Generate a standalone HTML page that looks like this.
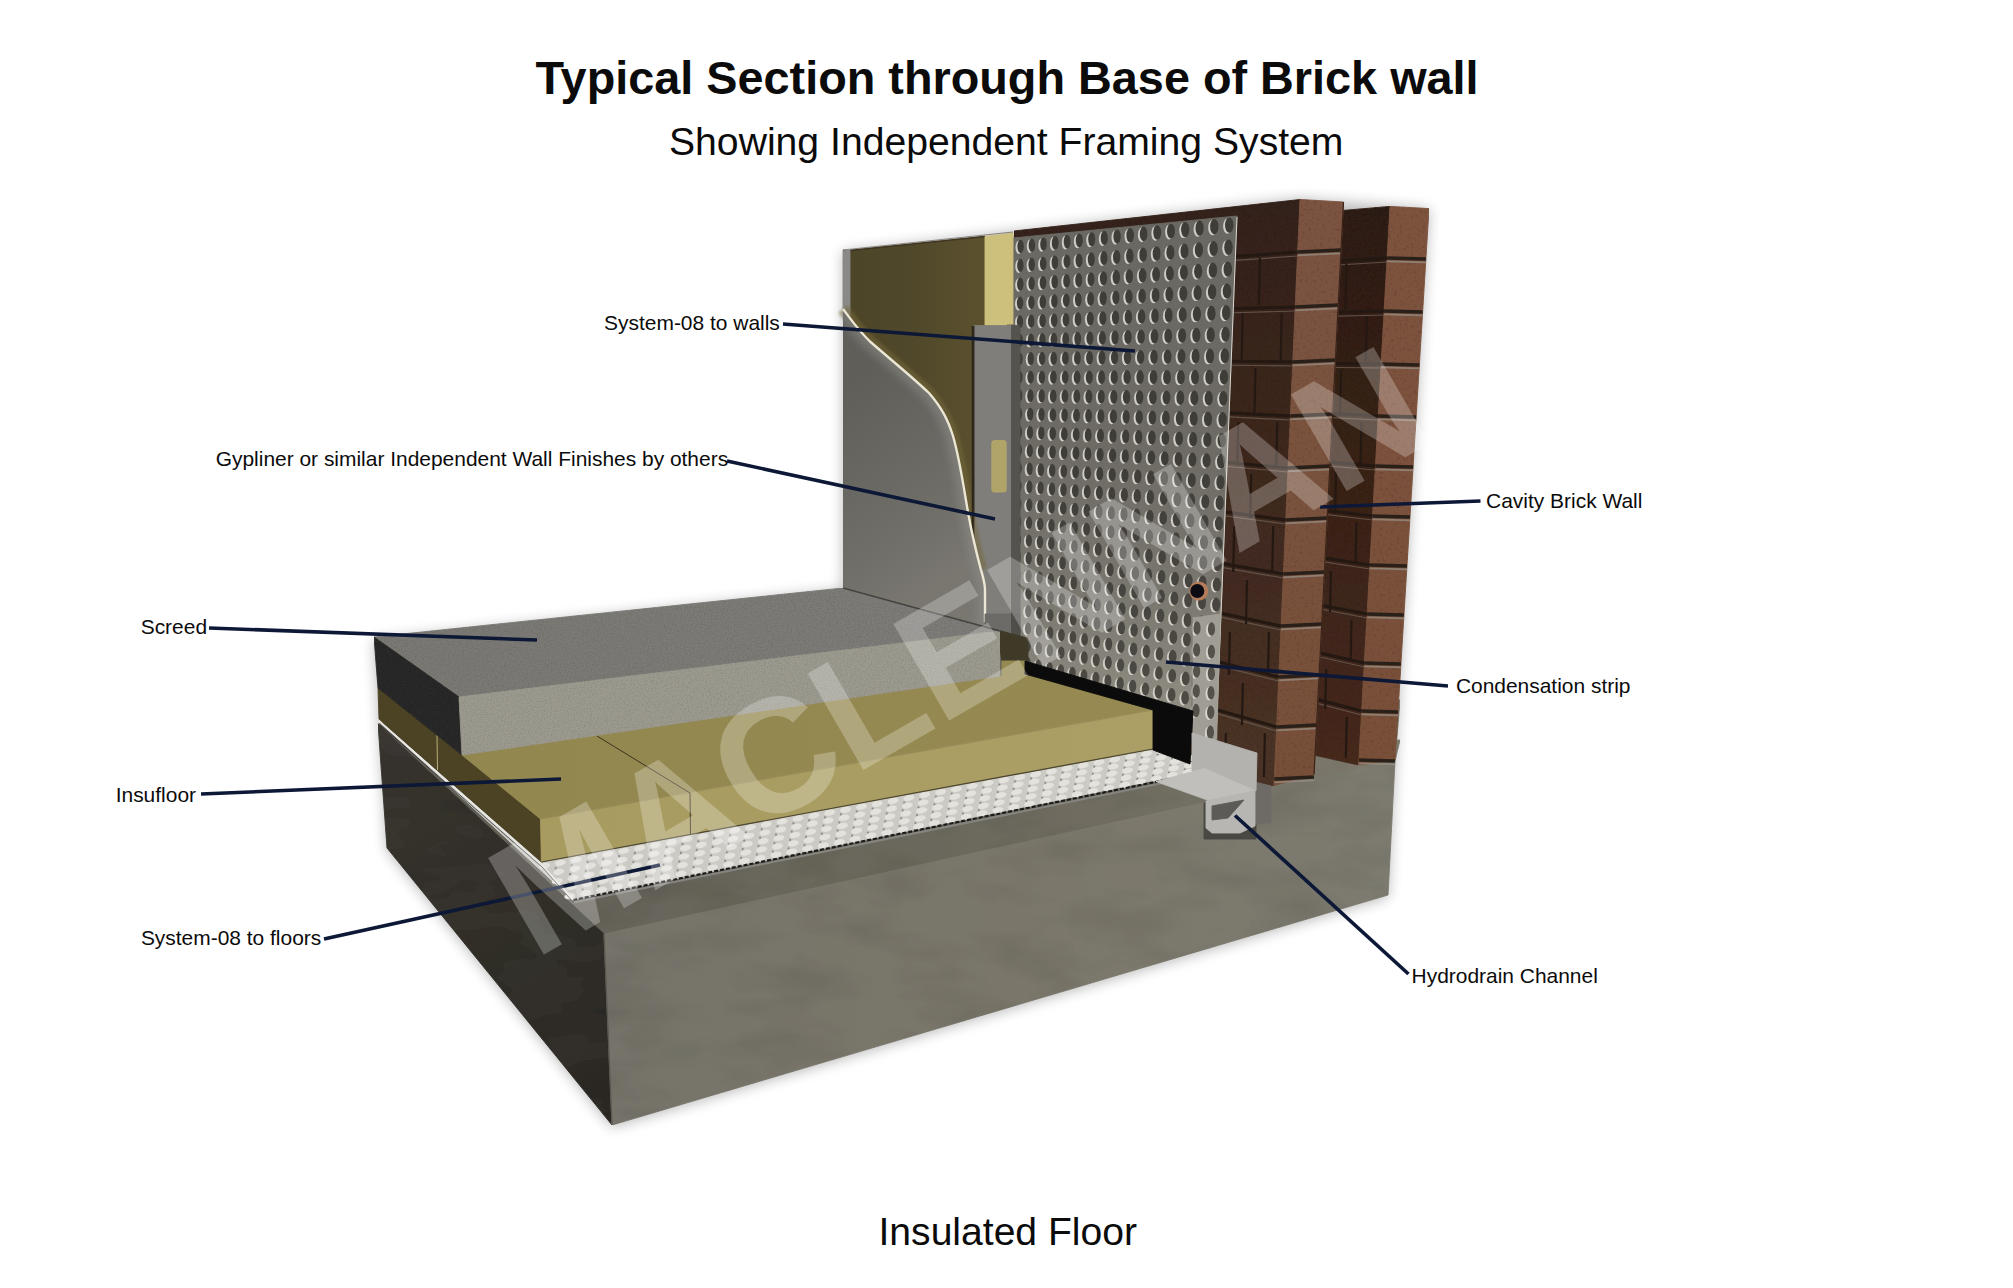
<!DOCTYPE html>
<html><head><meta charset="utf-8"><style>html,body{margin:0;padding:0;background:#fff;}svg{display:block}</style></head>
<body><svg xmlns="http://www.w3.org/2000/svg" width="2013" height="1288" viewBox="0 0 2013 1288">
<defs>
<filter id="blur8" x="-20%" y="-20%" width="140%" height="140%"><feGaussianBlur stdDeviation="7"/></filter>
<filter id="blur2"><feGaussianBlur stdDeviation="1.5"/></filter>
<filter id="blur4" x="-50%" y="-50%" width="200%" height="200%"><feGaussianBlur stdDeviation="4"/></filter>
<filter id="grain" x="0" y="0" width="100%" height="100%">
 <feTurbulence type="fractalNoise" baseFrequency="0.7" numOctaves="2" seed="4" result="n"/>
 <feColorMatrix in="n" type="matrix" values="0 0 0 0 0  0 0 0 0 0  0 0 0 0 0  0 0 0 -0.5 0.3" result="a"/>
 <feComposite in="a" in2="SourceGraphic" operator="in" result="ai"/>
 <feMerge><feMergeNode in="SourceGraphic"/><feMergeNode in="ai"/></feMerge>
</filter>
<filter id="mottle" x="0" y="0" width="100%" height="100%">
 <feTurbulence type="fractalNoise" baseFrequency="0.012 0.03" numOctaves="3" seed="9" result="n"/>
 <feColorMatrix in="n" type="matrix" values="0 0 0 0 0  0 0 0 0 0  0 0 0 0 0  0 0 0 -0.35 0.2" result="a"/>
 <feComposite in="a" in2="SourceGraphic" operator="in" result="ai"/>
 <feMerge><feMergeNode in="SourceGraphic"/><feMergeNode in="ai"/></feMerge>
</filter>
<filter id="brickn" x="0" y="0" width="100%" height="100%">
 <feTurbulence type="fractalNoise" baseFrequency="0.35" numOctaves="2" seed="2" result="n"/>
 <feColorMatrix in="n" type="matrix" values="0 0 0 0 0.05  0 0 0 0 0.02  0 0 0 0 0.01  0 0 0 -1.3 0.55" result="a"/>
 <feComposite in="a" in2="SourceGraphic" operator="in" result="ai"/>
 <feMerge><feMergeNode in="SourceGraphic"/><feMergeNode in="ai"/></feMerge>
</filter>
<linearGradient id="gFront" x1="604" y1="0" x2="1395" y2="0" gradientUnits="userSpaceOnUse"><stop offset="0" stop-color="#76736a"/><stop offset="0.5" stop-color="#7a776b"/><stop offset="1" stop-color="#7d7a6f"/></linearGradient>
<linearGradient id="gLeft" x1="378" y1="724" x2="612" y2="1125" gradientUnits="userSpaceOnUse"><stop offset="0" stop-color="#3a3731"/><stop offset="1" stop-color="#2e2b27"/></linearGradient>
<linearGradient id="gBoard" x1="850" y1="380" x2="975" y2="560" gradientUnits="userSpaceOnUse"><stop offset="0" stop-color="#5f5e59"/><stop offset="0.35" stop-color="#676661"/><stop offset="0.7" stop-color="#706e68"/><stop offset="1" stop-color="#797770"/></linearGradient>
<linearGradient id="gIns" x1="850" y1="0" x2="975" y2="0" gradientUnits="userSpaceOnUse"><stop offset="0" stop-color="#4d4527"/><stop offset="0.5" stop-color="#50482a"/><stop offset="1" stop-color="#5a502e"/></linearGradient>
<radialGradient id="gHole" cx="0.6" cy="0.6" r="0.7"><stop offset="0" stop-color="#2b2925"/><stop offset="0.7" stop-color="#35332e"/><stop offset="1" stop-color="#4a4740"/></radialGradient>
<linearGradient id="gPanel" x1="0" y1="230" x2="0" y2="740" gradientUnits="userSpaceOnUse"><stop offset="0" stop-color="#6a6862"/><stop offset="0.43" stop-color="#6d6b64"/><stop offset="0.72" stop-color="#7a776f"/><stop offset="0.92" stop-color="#8d8a80"/><stop offset="1" stop-color="#9a978e"/></linearGradient>
<linearGradient id="gScreedTop" x1="374" y1="0" x2="1000" y2="0" gradientUnits="userSpaceOnUse"><stop offset="0" stop-color="#7b7975"/><stop offset="1" stop-color="#7f7d79"/></linearGradient>
<linearGradient id="gInsFront" x1="540" y1="0" x2="1153" y2="0" gradientUnits="userSpaceOnUse"><stop offset="0" stop-color="#a89b60"/><stop offset="1" stop-color="#ab9f65"/></linearGradient>
<linearGradient id="gInsTop" x1="462" y1="0" x2="1153" y2="0" gradientUnits="userSpaceOnUse"><stop offset="0" stop-color="#938750"/><stop offset="1" stop-color="#968a52"/></linearGradient>
<linearGradient id="gCTop" x1="0" y1="0" x2="1" y2="0"><stop offset="0" stop-color="#65625a"/><stop offset="0.55" stop-color="#6b685c"/><stop offset="1" stop-color="#787569"/></linearGradient>
<linearGradient id="gIL" x1="0" y1="200" x2="0" y2="786" gradientUnits="userSpaceOnUse"><stop offset="0" stop-color="#33211a"/><stop offset="0.5" stop-color="#3e291f"/><stop offset="1" stop-color="#4a3226"/></linearGradient>
<linearGradient id="gOL" x1="0" y1="206" x2="0" y2="765" gradientUnits="userSpaceOnUse"><stop offset="0" stop-color="#2c1c14"/><stop offset="1" stop-color="#45291d"/></linearGradient>
<linearGradient id="gIF" x1="0" y1="200" x2="0" y2="786" gradientUnits="userSpaceOnUse"><stop offset="0" stop-color="#7b5341"/><stop offset="1" stop-color="#775039"/></linearGradient>
<linearGradient id="gOF" x1="0" y1="206" x2="0" y2="765" gradientUnits="userSpaceOnUse"><stop offset="0" stop-color="#7d523e"/><stop offset="1" stop-color="#785039"/></linearGradient>
</defs>
<rect width="2013" height="1288" fill="#ffffff"/>
<polygon points="843.0,252.0 1013.0,232.0 1300.0,199.0 1429.0,209.0 1395.0,763.0 1388.0,897.0 612.0,1127.0 387.0,850.0 374.0,640.0 843.0,590.0" fill="#000" opacity="0.28" filter="url(#blur8)"/>
<g filter="url(#mottle)"><polygon points="378.0,724.0 900.0,600.0 1400.0,700.0 1395.0,761.0 604.0,934.0" fill="url(#gCTop)" stroke="url(#gCTop)" stroke-width="0.9" stroke-linejoin="round" /><polygon points="1240.0,768.0 1300.0,745.0 1400.0,740.0 1395.0,761.0 1271.0,790.0" fill="#7b786c" stroke="#7b786c" stroke-width="0.9" stroke-linejoin="round" /><polygon points="378.0,724.0 604.0,934.0 612.0,1125.0 387.0,848.0" fill="url(#gLeft)" stroke="url(#gLeft)" stroke-width="0.9" stroke-linejoin="round" /><polygon points="604.0,934.0 1395.0,761.0 1388.0,895.0 612.0,1125.0" fill="url(#gFront)" stroke="url(#gFront)" stroke-width="0.9" stroke-linejoin="round" /></g>
<line x1="604.0" y1="934.0" x2="612.0" y2="1125.0" stroke="#5a5750" stroke-width="1.2" />
<g filter="url(#brickn)"><polygon points="1325.0,212.0 1390.0,206.4 1358.6,765.0 1300.0,752.0" fill="url(#gOL)" stroke="url(#gOL)" stroke-width="0.9" stroke-linejoin="round" /><polygon points="1390.0,206.4 1429.0,208.6 1395.0,760.0 1358.6,765.0" fill="url(#gOF)" stroke="url(#gOF)" stroke-width="0.9" stroke-linejoin="round" /></g>
<line x1="1300.0" y1="263.4" x2="1387.1" y2="258.0" stroke="#241812" stroke-width="3.2" /><line x1="1300.0" y1="267.4" x2="1387.1" y2="262.0" stroke="#6a5d52" stroke-width="1.2" opacity="0.8"/><line x1="1300.0" y1="313.1" x2="1384.1" y2="311.0" stroke="#241812" stroke-width="3.2" /><line x1="1300.0" y1="317.1" x2="1384.1" y2="315.0" stroke="#6a5d52" stroke-width="1.2" opacity="0.8"/><line x1="1300.0" y1="363.0" x2="1381.1" y2="364.0" stroke="#241812" stroke-width="3.2" /><line x1="1300.0" y1="367.0" x2="1381.1" y2="368.0" stroke="#6a5d52" stroke-width="1.2" opacity="0.8"/><line x1="1300.0" y1="412.1" x2="1378.2" y2="416.0" stroke="#241812" stroke-width="3.2" /><line x1="1300.0" y1="416.1" x2="1378.2" y2="420.0" stroke="#6a5d52" stroke-width="1.2" opacity="0.8"/><line x1="1300.0" y1="459.6" x2="1375.4" y2="466.0" stroke="#241812" stroke-width="3.2" /><line x1="1300.0" y1="463.6" x2="1375.4" y2="470.0" stroke="#6a5d52" stroke-width="1.2" opacity="0.8"/><line x1="1300.0" y1="507.3" x2="1372.6" y2="516.0" stroke="#241812" stroke-width="3.2" /><line x1="1300.0" y1="511.3" x2="1372.6" y2="520.0" stroke="#6a5d52" stroke-width="1.2" opacity="0.8"/><line x1="1300.0" y1="554.1" x2="1369.8" y2="565.0" stroke="#241812" stroke-width="3.2" /><line x1="1300.0" y1="558.1" x2="1369.8" y2="569.0" stroke="#6a5d52" stroke-width="1.2" opacity="0.8"/><line x1="1300.0" y1="601.2" x2="1367.1" y2="614.0" stroke="#241812" stroke-width="3.2" /><line x1="1300.0" y1="605.2" x2="1367.1" y2="618.0" stroke="#6a5d52" stroke-width="1.2" opacity="0.8"/><line x1="1300.0" y1="648.5" x2="1364.3" y2="663.0" stroke="#241812" stroke-width="3.2" /><line x1="1300.0" y1="652.5" x2="1364.3" y2="667.0" stroke="#6a5d52" stroke-width="1.2" opacity="0.8"/><line x1="1300.0" y1="694.9" x2="1361.6" y2="711.0" stroke="#241812" stroke-width="3.2" /><line x1="1300.0" y1="698.9" x2="1361.6" y2="715.0" stroke="#6a5d52" stroke-width="1.2" opacity="0.8"/><line x1="1346.4" y1="264.0" x2="1345.4" y2="309.0" stroke="#241812" stroke-width="2.2" /><line x1="1366.8" y1="317.0" x2="1365.8" y2="362.0" stroke="#241812" stroke-width="2.2" /><line x1="1341.1" y1="370.0" x2="1340.1" y2="414.0" stroke="#241812" stroke-width="2.2" /><line x1="1361.5" y1="422.0" x2="1360.5" y2="464.0" stroke="#241812" stroke-width="2.2" /><line x1="1336.0" y1="472.0" x2="1335.0" y2="514.0" stroke="#241812" stroke-width="2.2" /><line x1="1356.5" y1="522.0" x2="1355.5" y2="563.0" stroke="#241812" stroke-width="2.2" /><line x1="1331.0" y1="571.0" x2="1330.0" y2="612.0" stroke="#241812" stroke-width="2.2" /><line x1="1351.6" y1="620.0" x2="1350.6" y2="661.0" stroke="#241812" stroke-width="2.2" /><line x1="1326.2" y1="669.0" x2="1325.2" y2="709.0" stroke="#241812" stroke-width="2.2" /><line x1="1346.8" y1="717.0" x2="1345.8" y2="758.0" stroke="#241812" stroke-width="2.2" />
<line x1="1387.1" y1="258.0" x2="1425.9" y2="259.0" stroke="#2a201a" stroke-width="3.4" /><line x1="1387.1" y1="261.4" x2="1425.9" y2="262.4" stroke="#948c82" stroke-width="1.8" opacity="0.8"/><line x1="1384.1" y1="311.0" x2="1422.6" y2="312.0" stroke="#2a201a" stroke-width="3.4" /><line x1="1384.1" y1="314.4" x2="1422.6" y2="315.4" stroke="#948c82" stroke-width="1.8" opacity="0.8"/><line x1="1381.1" y1="364.0" x2="1419.4" y2="365.0" stroke="#2a201a" stroke-width="3.4" /><line x1="1381.1" y1="367.4" x2="1419.4" y2="368.4" stroke="#948c82" stroke-width="1.8" opacity="0.8"/><line x1="1378.2" y1="416.0" x2="1416.1" y2="417.0" stroke="#2a201a" stroke-width="3.4" /><line x1="1378.2" y1="419.4" x2="1416.1" y2="420.4" stroke="#948c82" stroke-width="1.8" opacity="0.8"/><line x1="1375.4" y1="466.0" x2="1413.1" y2="467.0" stroke="#2a201a" stroke-width="3.4" /><line x1="1375.4" y1="469.4" x2="1413.1" y2="470.4" stroke="#948c82" stroke-width="1.8" opacity="0.8"/><line x1="1372.6" y1="516.0" x2="1410.0" y2="517.0" stroke="#2a201a" stroke-width="3.4" /><line x1="1372.6" y1="519.4" x2="1410.0" y2="520.4" stroke="#948c82" stroke-width="1.8" opacity="0.8"/><line x1="1369.8" y1="565.0" x2="1407.0" y2="566.0" stroke="#2a201a" stroke-width="3.4" /><line x1="1369.8" y1="568.4" x2="1407.0" y2="569.4" stroke="#948c82" stroke-width="1.8" opacity="0.8"/><line x1="1367.1" y1="614.0" x2="1403.9" y2="615.0" stroke="#2a201a" stroke-width="3.4" /><line x1="1367.1" y1="617.4" x2="1403.9" y2="618.4" stroke="#948c82" stroke-width="1.8" opacity="0.8"/><line x1="1364.3" y1="663.0" x2="1400.9" y2="664.0" stroke="#2a201a" stroke-width="3.4" /><line x1="1364.3" y1="666.4" x2="1400.9" y2="667.4" stroke="#948c82" stroke-width="1.8" opacity="0.8"/><line x1="1361.6" y1="711.0" x2="1398.0" y2="712.0" stroke="#2a201a" stroke-width="3.4" /><line x1="1361.6" y1="714.4" x2="1398.0" y2="715.4" stroke="#948c82" stroke-width="1.8" opacity="0.8"/><line x1="1358.9" y1="760.0" x2="1394.9" y2="761.0" stroke="#2a201a" stroke-width="3.4" /><line x1="1358.9" y1="763.4" x2="1394.9" y2="764.4" stroke="#948c82" stroke-width="1.8" opacity="0.8"/>
<g filter="url(#brickn)"><polygon points="1014.0,231.0 1300.0,199.5 1274.0,786.0 1250.0,782.0 1014.0,700.0" fill="url(#gIL)" stroke="url(#gIL)" stroke-width="0.9" stroke-linejoin="round" /><polygon points="1300.0,199.5 1343.5,202.0 1314.0,774.4 1274.0,785.5" fill="url(#gIF)" stroke="url(#gIF)" stroke-width="0.9" stroke-linejoin="round" /></g>
<line x1="1210.0" y1="258.2" x2="1297.7" y2="252.0" stroke="#241812" stroke-width="3.2" /><line x1="1210.0" y1="262.2" x2="1297.7" y2="256.0" stroke="#6a5d52" stroke-width="1.2" opacity="0.8"/><line x1="1210.0" y1="309.5" x2="1295.2" y2="307.0" stroke="#241812" stroke-width="3.2" /><line x1="1210.0" y1="313.5" x2="1295.2" y2="311.0" stroke="#6a5d52" stroke-width="1.2" opacity="0.8"/><line x1="1210.0" y1="361.0" x2="1292.8" y2="362.0" stroke="#241812" stroke-width="3.2" /><line x1="1210.0" y1="365.0" x2="1292.8" y2="366.0" stroke="#6a5d52" stroke-width="1.2" opacity="0.8"/><line x1="1210.0" y1="411.8" x2="1290.4" y2="416.0" stroke="#241812" stroke-width="3.2" /><line x1="1210.0" y1="415.8" x2="1290.4" y2="420.0" stroke="#6a5d52" stroke-width="1.2" opacity="0.8"/><line x1="1210.0" y1="460.8" x2="1288.1" y2="468.0" stroke="#241812" stroke-width="3.2" /><line x1="1210.0" y1="464.8" x2="1288.1" y2="472.0" stroke="#6a5d52" stroke-width="1.2" opacity="0.8"/><line x1="1210.0" y1="510.0" x2="1285.8" y2="520.0" stroke="#241812" stroke-width="3.2" /><line x1="1210.0" y1="514.0" x2="1285.8" y2="524.0" stroke="#6a5d52" stroke-width="1.2" opacity="0.8"/><line x1="1210.0" y1="561.3" x2="1283.4" y2="574.0" stroke="#241812" stroke-width="3.2" /><line x1="1210.0" y1="565.3" x2="1283.4" y2="578.0" stroke="#6a5d52" stroke-width="1.2" opacity="0.8"/><line x1="1210.0" y1="610.9" x2="1281.1" y2="626.0" stroke="#241812" stroke-width="3.2" /><line x1="1210.0" y1="614.9" x2="1281.1" y2="630.0" stroke="#6a5d52" stroke-width="1.2" opacity="0.8"/><line x1="1210.0" y1="659.7" x2="1278.8" y2="677.0" stroke="#241812" stroke-width="3.2" /><line x1="1210.0" y1="663.7" x2="1278.8" y2="681.0" stroke="#6a5d52" stroke-width="1.2" opacity="0.8"/><line x1="1210.0" y1="707.7" x2="1276.6" y2="727.0" stroke="#241812" stroke-width="3.2" /><line x1="1210.0" y1="711.7" x2="1276.6" y2="731.0" stroke="#6a5d52" stroke-width="1.2" opacity="0.8"/><line x1="1259.9" y1="258.0" x2="1258.9" y2="305.0" stroke="#241812" stroke-width="2.2" /><line x1="1242.7" y1="313.0" x2="1241.7" y2="360.0" stroke="#241812" stroke-width="2.2" /><line x1="1281.7" y1="313.0" x2="1280.7" y2="360.0" stroke="#241812" stroke-width="2.2" /><line x1="1255.5" y1="368.0" x2="1254.5" y2="414.0" stroke="#241812" stroke-width="2.2" /><line x1="1238.3" y1="422.0" x2="1237.3" y2="466.0" stroke="#241812" stroke-width="2.2" /><line x1="1277.3" y1="422.0" x2="1276.3" y2="466.0" stroke="#241812" stroke-width="2.2" /><line x1="1251.2" y1="474.0" x2="1250.2" y2="518.0" stroke="#241812" stroke-width="2.2" /><line x1="1234.2" y1="526.0" x2="1233.2" y2="572.0" stroke="#241812" stroke-width="2.2" /><line x1="1273.2" y1="526.0" x2="1272.2" y2="572.0" stroke="#241812" stroke-width="2.2" /><line x1="1247.0" y1="580.0" x2="1246.0" y2="624.0" stroke="#241812" stroke-width="2.2" /><line x1="1229.9" y1="632.0" x2="1228.9" y2="675.0" stroke="#241812" stroke-width="2.2" /><line x1="1268.9" y1="632.0" x2="1267.9" y2="675.0" stroke="#241812" stroke-width="2.2" /><line x1="1242.9" y1="683.0" x2="1241.9" y2="725.0" stroke="#241812" stroke-width="2.2" /><line x1="1225.9" y1="733.0" x2="1224.9" y2="777.0" stroke="#241812" stroke-width="2.2" /><line x1="1264.9" y1="733.0" x2="1263.9" y2="777.0" stroke="#241812" stroke-width="2.2" />
<line x1="1297.7" y1="252.0" x2="1341.0" y2="250.0" stroke="#2a201a" stroke-width="3.4" /><line x1="1297.7" y1="255.4" x2="1341.0" y2="253.4" stroke="#948c82" stroke-width="1.8" opacity="0.8"/><line x1="1295.2" y1="307.0" x2="1338.2" y2="305.0" stroke="#2a201a" stroke-width="3.4" /><line x1="1295.2" y1="310.4" x2="1338.2" y2="308.4" stroke="#948c82" stroke-width="1.8" opacity="0.8"/><line x1="1292.8" y1="362.0" x2="1335.4" y2="360.0" stroke="#2a201a" stroke-width="3.4" /><line x1="1292.8" y1="365.4" x2="1335.4" y2="363.4" stroke="#948c82" stroke-width="1.8" opacity="0.8"/><line x1="1290.4" y1="416.0" x2="1332.6" y2="414.0" stroke="#2a201a" stroke-width="3.4" /><line x1="1290.4" y1="419.4" x2="1332.6" y2="417.4" stroke="#948c82" stroke-width="1.8" opacity="0.8"/><line x1="1288.1" y1="468.0" x2="1329.9" y2="466.0" stroke="#2a201a" stroke-width="3.4" /><line x1="1288.1" y1="471.4" x2="1329.9" y2="469.4" stroke="#948c82" stroke-width="1.8" opacity="0.8"/><line x1="1285.8" y1="520.0" x2="1327.2" y2="518.0" stroke="#2a201a" stroke-width="3.4" /><line x1="1285.8" y1="523.4" x2="1327.2" y2="521.4" stroke="#948c82" stroke-width="1.8" opacity="0.8"/><line x1="1283.4" y1="574.0" x2="1324.4" y2="572.0" stroke="#2a201a" stroke-width="3.4" /><line x1="1283.4" y1="577.4" x2="1324.4" y2="575.4" stroke="#948c82" stroke-width="1.8" opacity="0.8"/><line x1="1281.1" y1="626.0" x2="1321.8" y2="624.0" stroke="#2a201a" stroke-width="3.4" /><line x1="1281.1" y1="629.4" x2="1321.8" y2="627.4" stroke="#948c82" stroke-width="1.8" opacity="0.8"/><line x1="1278.8" y1="677.0" x2="1319.1" y2="675.0" stroke="#2a201a" stroke-width="3.4" /><line x1="1278.8" y1="680.4" x2="1319.1" y2="678.4" stroke="#948c82" stroke-width="1.8" opacity="0.8"/><line x1="1276.6" y1="727.0" x2="1316.5" y2="725.0" stroke="#2a201a" stroke-width="3.4" /><line x1="1276.6" y1="730.4" x2="1316.5" y2="728.4" stroke="#948c82" stroke-width="1.8" opacity="0.8"/><line x1="1274.3" y1="779.0" x2="1313.9" y2="777.0" stroke="#2a201a" stroke-width="3.4" /><line x1="1274.3" y1="782.4" x2="1313.9" y2="780.4" stroke="#948c82" stroke-width="1.8" opacity="0.8"/>
<line x1="1343.5" y1="202.0" x2="1314.0" y2="774.4" stroke="#3b241a" stroke-width="1.2" />
<polygon points="1013.0,238.0 1237.0,216.0 1216.0,738.0 1013.0,675.0" fill="url(#gPanel)" stroke="url(#gPanel)" stroke-width="0.9" stroke-linejoin="round" />
<g><ellipse cx="1018.7" cy="247.4" rx="3.2" ry="6.6" fill="#cfcdc5"/><ellipse cx="1020.6" cy="246.4" rx="3.2" ry="6.6" fill="#3f3d38"/><ellipse cx="1030.0" cy="246.3" rx="3.2" ry="6.7" fill="#cfcdc5"/><ellipse cx="1031.9" cy="245.3" rx="3.2" ry="6.7" fill="#3f3d38"/><ellipse cx="1041.6" cy="245.1" rx="3.3" ry="6.7" fill="#cfcdc5"/><ellipse cx="1043.5" cy="244.1" rx="3.3" ry="6.7" fill="#3f3d38"/><ellipse cx="1053.3" cy="243.9" rx="3.4" ry="6.8" fill="#cfcdc5"/><ellipse cx="1055.2" cy="242.9" rx="3.4" ry="6.8" fill="#3f3d38"/><ellipse cx="1065.2" cy="242.7" rx="3.4" ry="6.9" fill="#cfcdc5"/><ellipse cx="1067.1" cy="241.7" rx="3.4" ry="6.9" fill="#3f3d38"/><ellipse cx="1077.4" cy="241.4" rx="3.5" ry="6.9" fill="#cfcdc5"/><ellipse cx="1079.3" cy="240.4" rx="3.5" ry="6.9" fill="#3f3d38"/><ellipse cx="1089.8" cy="240.2" rx="3.5" ry="7.0" fill="#cfcdc5"/><ellipse cx="1091.7" cy="239.2" rx="3.5" ry="7.0" fill="#3f3d38"/><ellipse cx="1102.4" cy="238.9" rx="3.6" ry="7.1" fill="#cfcdc5"/><ellipse cx="1104.3" cy="237.9" rx="3.6" ry="7.1" fill="#3f3d38"/><ellipse cx="1115.2" cy="237.6" rx="3.7" ry="7.1" fill="#cfcdc5"/><ellipse cx="1117.1" cy="236.6" rx="3.7" ry="7.1" fill="#3f3d38"/><ellipse cx="1128.3" cy="236.3" rx="3.8" ry="7.2" fill="#cfcdc5"/><ellipse cx="1130.2" cy="235.3" rx="3.8" ry="7.2" fill="#3f3d38"/><ellipse cx="1141.7" cy="234.9" rx="3.8" ry="7.3" fill="#cfcdc5"/><ellipse cx="1143.6" cy="233.9" rx="3.8" ry="7.3" fill="#3f3d38"/><ellipse cx="1155.3" cy="233.5" rx="3.9" ry="7.3" fill="#cfcdc5"/><ellipse cx="1157.2" cy="232.5" rx="3.9" ry="7.3" fill="#3f3d38"/><ellipse cx="1169.1" cy="232.1" rx="4.0" ry="7.4" fill="#cfcdc5"/><ellipse cx="1171.0" cy="231.1" rx="4.0" ry="7.4" fill="#3f3d38"/><ellipse cx="1183.3" cy="230.6" rx="4.1" ry="7.5" fill="#cfcdc5"/><ellipse cx="1185.2" cy="229.6" rx="4.1" ry="7.5" fill="#3f3d38"/><ellipse cx="1197.7" cy="229.2" rx="4.1" ry="7.6" fill="#cfcdc5"/><ellipse cx="1199.6" cy="228.2" rx="4.1" ry="7.6" fill="#3f3d38"/><ellipse cx="1212.4" cy="227.7" rx="4.2" ry="7.6" fill="#cfcdc5"/><ellipse cx="1214.3" cy="226.7" rx="4.2" ry="7.6" fill="#3f3d38"/><ellipse cx="1227.4" cy="226.1" rx="4.3" ry="7.7" fill="#cfcdc5"/><ellipse cx="1229.3" cy="225.1" rx="4.3" ry="7.7" fill="#3f3d38"/><ellipse cx="1018.5" cy="266.4" rx="3.2" ry="6.6" fill="#cfcdc5"/><ellipse cx="1020.4" cy="265.4" rx="3.2" ry="6.6" fill="#3f3d38"/><ellipse cx="1029.8" cy="265.4" rx="3.2" ry="6.7" fill="#cfcdc5"/><ellipse cx="1031.7" cy="264.4" rx="3.2" ry="6.7" fill="#3f3d38"/><ellipse cx="1041.3" cy="264.4" rx="3.3" ry="6.7" fill="#cfcdc5"/><ellipse cx="1043.2" cy="263.4" rx="3.3" ry="6.7" fill="#3f3d38"/><ellipse cx="1053.0" cy="263.4" rx="3.3" ry="6.8" fill="#cfcdc5"/><ellipse cx="1054.9" cy="262.4" rx="3.3" ry="6.8" fill="#3f3d38"/><ellipse cx="1065.0" cy="262.3" rx="3.4" ry="6.8" fill="#cfcdc5"/><ellipse cx="1066.9" cy="261.3" rx="3.4" ry="6.8" fill="#3f3d38"/><ellipse cx="1077.1" cy="261.3" rx="3.5" ry="6.9" fill="#cfcdc5"/><ellipse cx="1079.0" cy="260.3" rx="3.5" ry="6.9" fill="#3f3d38"/><ellipse cx="1089.4" cy="260.2" rx="3.5" ry="7.0" fill="#cfcdc5"/><ellipse cx="1091.3" cy="259.2" rx="3.5" ry="7.0" fill="#3f3d38"/><ellipse cx="1102.0" cy="259.1" rx="3.6" ry="7.0" fill="#cfcdc5"/><ellipse cx="1103.9" cy="258.1" rx="3.6" ry="7.0" fill="#3f3d38"/><ellipse cx="1114.8" cy="258.0" rx="3.7" ry="7.1" fill="#cfcdc5"/><ellipse cx="1116.7" cy="257.0" rx="3.7" ry="7.1" fill="#3f3d38"/><ellipse cx="1127.9" cy="256.8" rx="3.7" ry="7.2" fill="#cfcdc5"/><ellipse cx="1129.8" cy="255.8" rx="3.7" ry="7.2" fill="#3f3d38"/><ellipse cx="1141.2" cy="255.7" rx="3.8" ry="7.2" fill="#cfcdc5"/><ellipse cx="1143.1" cy="254.7" rx="3.8" ry="7.2" fill="#3f3d38"/><ellipse cx="1154.7" cy="254.5" rx="3.9" ry="7.3" fill="#cfcdc5"/><ellipse cx="1156.6" cy="253.5" rx="3.9" ry="7.3" fill="#3f3d38"/><ellipse cx="1168.5" cy="253.3" rx="4.0" ry="7.4" fill="#cfcdc5"/><ellipse cx="1170.4" cy="252.3" rx="4.0" ry="7.4" fill="#3f3d38"/><ellipse cx="1182.6" cy="252.0" rx="4.0" ry="7.5" fill="#cfcdc5"/><ellipse cx="1184.5" cy="251.0" rx="4.0" ry="7.5" fill="#3f3d38"/><ellipse cx="1197.0" cy="250.8" rx="4.1" ry="7.5" fill="#cfcdc5"/><ellipse cx="1198.9" cy="249.8" rx="4.1" ry="7.5" fill="#3f3d38"/><ellipse cx="1211.7" cy="249.5" rx="4.2" ry="7.6" fill="#cfcdc5"/><ellipse cx="1213.6" cy="248.5" rx="4.2" ry="7.6" fill="#3f3d38"/><ellipse cx="1226.6" cy="248.2" rx="4.3" ry="7.7" fill="#cfcdc5"/><ellipse cx="1228.5" cy="247.2" rx="4.3" ry="7.7" fill="#3f3d38"/><ellipse cx="1018.4" cy="285.2" rx="3.2" ry="6.6" fill="#cfcdc5"/><ellipse cx="1020.3" cy="284.2" rx="3.2" ry="6.6" fill="#3f3d38"/><ellipse cx="1029.7" cy="284.4" rx="3.2" ry="6.6" fill="#cfcdc5"/><ellipse cx="1031.6" cy="283.4" rx="3.2" ry="6.6" fill="#3f3d38"/><ellipse cx="1041.1" cy="283.6" rx="3.3" ry="6.7" fill="#cfcdc5"/><ellipse cx="1043.0" cy="282.6" rx="3.3" ry="6.7" fill="#3f3d38"/><ellipse cx="1052.8" cy="282.7" rx="3.3" ry="6.7" fill="#cfcdc5"/><ellipse cx="1054.7" cy="281.7" rx="3.3" ry="6.7" fill="#3f3d38"/><ellipse cx="1064.7" cy="281.9" rx="3.4" ry="6.8" fill="#cfcdc5"/><ellipse cx="1066.6" cy="280.9" rx="3.4" ry="6.8" fill="#3f3d38"/><ellipse cx="1076.8" cy="281.0" rx="3.5" ry="6.9" fill="#cfcdc5"/><ellipse cx="1078.7" cy="280.0" rx="3.5" ry="6.9" fill="#3f3d38"/><ellipse cx="1089.1" cy="280.1" rx="3.5" ry="6.9" fill="#cfcdc5"/><ellipse cx="1091.0" cy="279.1" rx="3.5" ry="6.9" fill="#3f3d38"/><ellipse cx="1101.6" cy="279.2" rx="3.6" ry="7.0" fill="#cfcdc5"/><ellipse cx="1103.5" cy="278.2" rx="3.6" ry="7.0" fill="#3f3d38"/><ellipse cx="1114.4" cy="278.2" rx="3.7" ry="7.1" fill="#cfcdc5"/><ellipse cx="1116.3" cy="277.2" rx="3.7" ry="7.1" fill="#3f3d38"/><ellipse cx="1127.4" cy="277.3" rx="3.7" ry="7.1" fill="#cfcdc5"/><ellipse cx="1129.3" cy="276.3" rx="3.7" ry="7.1" fill="#3f3d38"/><ellipse cx="1140.7" cy="276.3" rx="3.8" ry="7.2" fill="#cfcdc5"/><ellipse cx="1142.6" cy="275.3" rx="3.8" ry="7.2" fill="#3f3d38"/><ellipse cx="1154.2" cy="275.4" rx="3.9" ry="7.3" fill="#cfcdc5"/><ellipse cx="1156.1" cy="274.4" rx="3.9" ry="7.3" fill="#3f3d38"/><ellipse cx="1168.0" cy="274.4" rx="3.9" ry="7.3" fill="#cfcdc5"/><ellipse cx="1169.9" cy="273.4" rx="3.9" ry="7.3" fill="#3f3d38"/><ellipse cx="1182.0" cy="273.3" rx="4.0" ry="7.4" fill="#cfcdc5"/><ellipse cx="1183.9" cy="272.3" rx="4.0" ry="7.4" fill="#3f3d38"/><ellipse cx="1196.3" cy="272.3" rx="4.1" ry="7.5" fill="#cfcdc5"/><ellipse cx="1198.2" cy="271.3" rx="4.1" ry="7.5" fill="#3f3d38"/><ellipse cx="1211.0" cy="271.2" rx="4.2" ry="7.6" fill="#cfcdc5"/><ellipse cx="1212.9" cy="270.2" rx="4.2" ry="7.6" fill="#3f3d38"/><ellipse cx="1225.9" cy="270.1" rx="4.3" ry="7.6" fill="#cfcdc5"/><ellipse cx="1227.8" cy="269.1" rx="4.3" ry="7.6" fill="#3f3d38"/><ellipse cx="1018.2" cy="304.0" rx="3.2" ry="6.5" fill="#cfcdc5"/><ellipse cx="1020.1" cy="303.0" rx="3.2" ry="6.5" fill="#3f3d38"/><ellipse cx="1029.5" cy="303.3" rx="3.2" ry="6.6" fill="#cfcdc5"/><ellipse cx="1031.4" cy="302.3" rx="3.2" ry="6.6" fill="#3f3d38"/><ellipse cx="1040.9" cy="302.7" rx="3.3" ry="6.7" fill="#cfcdc5"/><ellipse cx="1042.8" cy="301.7" rx="3.3" ry="6.7" fill="#3f3d38"/><ellipse cx="1052.5" cy="302.0" rx="3.3" ry="6.7" fill="#cfcdc5"/><ellipse cx="1054.4" cy="301.0" rx="3.3" ry="6.7" fill="#3f3d38"/><ellipse cx="1064.4" cy="301.3" rx="3.4" ry="6.8" fill="#cfcdc5"/><ellipse cx="1066.3" cy="300.3" rx="3.4" ry="6.8" fill="#3f3d38"/><ellipse cx="1076.4" cy="300.6" rx="3.4" ry="6.8" fill="#cfcdc5"/><ellipse cx="1078.3" cy="299.6" rx="3.4" ry="6.8" fill="#3f3d38"/><ellipse cx="1088.7" cy="299.9" rx="3.5" ry="6.9" fill="#cfcdc5"/><ellipse cx="1090.6" cy="298.9" rx="3.5" ry="6.9" fill="#3f3d38"/><ellipse cx="1101.2" cy="299.2" rx="3.6" ry="7.0" fill="#cfcdc5"/><ellipse cx="1103.1" cy="298.2" rx="3.6" ry="7.0" fill="#3f3d38"/><ellipse cx="1114.0" cy="298.4" rx="3.6" ry="7.0" fill="#cfcdc5"/><ellipse cx="1115.9" cy="297.4" rx="3.6" ry="7.0" fill="#3f3d38"/><ellipse cx="1127.0" cy="297.7" rx="3.7" ry="7.1" fill="#cfcdc5"/><ellipse cx="1128.9" cy="296.7" rx="3.7" ry="7.1" fill="#3f3d38"/><ellipse cx="1140.2" cy="296.9" rx="3.8" ry="7.2" fill="#cfcdc5"/><ellipse cx="1142.1" cy="295.9" rx="3.8" ry="7.2" fill="#3f3d38"/><ellipse cx="1153.7" cy="296.1" rx="3.9" ry="7.2" fill="#cfcdc5"/><ellipse cx="1155.6" cy="295.1" rx="3.9" ry="7.2" fill="#3f3d38"/><ellipse cx="1167.4" cy="295.3" rx="3.9" ry="7.3" fill="#cfcdc5"/><ellipse cx="1169.3" cy="294.3" rx="3.9" ry="7.3" fill="#3f3d38"/><ellipse cx="1181.4" cy="294.5" rx="4.0" ry="7.4" fill="#cfcdc5"/><ellipse cx="1183.3" cy="293.5" rx="4.0" ry="7.4" fill="#3f3d38"/><ellipse cx="1195.7" cy="293.7" rx="4.1" ry="7.4" fill="#cfcdc5"/><ellipse cx="1197.6" cy="292.7" rx="4.1" ry="7.4" fill="#3f3d38"/><ellipse cx="1210.2" cy="292.8" rx="4.2" ry="7.5" fill="#cfcdc5"/><ellipse cx="1212.1" cy="291.8" rx="4.2" ry="7.5" fill="#3f3d38"/><ellipse cx="1225.1" cy="292.0" rx="4.3" ry="7.6" fill="#cfcdc5"/><ellipse cx="1227.0" cy="291.0" rx="4.3" ry="7.6" fill="#3f3d38"/><ellipse cx="1018.1" cy="322.7" rx="3.1" ry="6.5" fill="#cfcdc5"/><ellipse cx="1020.0" cy="321.7" rx="3.1" ry="6.5" fill="#3f3d38"/><ellipse cx="1029.3" cy="322.2" rx="3.2" ry="6.6" fill="#cfcdc5"/><ellipse cx="1031.2" cy="321.2" rx="3.2" ry="6.6" fill="#3f3d38"/><ellipse cx="1040.7" cy="321.7" rx="3.3" ry="6.6" fill="#cfcdc5"/><ellipse cx="1042.6" cy="320.7" rx="3.3" ry="6.6" fill="#3f3d38"/><ellipse cx="1052.3" cy="321.2" rx="3.3" ry="6.7" fill="#cfcdc5"/><ellipse cx="1054.2" cy="320.2" rx="3.3" ry="6.7" fill="#3f3d38"/><ellipse cx="1064.1" cy="320.7" rx="3.4" ry="6.7" fill="#cfcdc5"/><ellipse cx="1066.0" cy="319.7" rx="3.4" ry="6.7" fill="#3f3d38"/><ellipse cx="1076.1" cy="320.1" rx="3.4" ry="6.8" fill="#cfcdc5"/><ellipse cx="1078.0" cy="319.1" rx="3.4" ry="6.8" fill="#3f3d38"/><ellipse cx="1088.4" cy="319.6" rx="3.5" ry="6.9" fill="#cfcdc5"/><ellipse cx="1090.3" cy="318.6" rx="3.5" ry="6.9" fill="#3f3d38"/><ellipse cx="1100.9" cy="319.1" rx="3.6" ry="6.9" fill="#cfcdc5"/><ellipse cx="1102.8" cy="318.1" rx="3.6" ry="6.9" fill="#3f3d38"/><ellipse cx="1113.6" cy="318.5" rx="3.6" ry="7.0" fill="#cfcdc5"/><ellipse cx="1115.5" cy="317.5" rx="3.6" ry="7.0" fill="#3f3d38"/><ellipse cx="1126.5" cy="317.9" rx="3.7" ry="7.1" fill="#cfcdc5"/><ellipse cx="1128.4" cy="316.9" rx="3.7" ry="7.1" fill="#3f3d38"/><ellipse cx="1139.7" cy="317.4" rx="3.8" ry="7.1" fill="#cfcdc5"/><ellipse cx="1141.6" cy="316.4" rx="3.8" ry="7.1" fill="#3f3d38"/><ellipse cx="1153.1" cy="316.8" rx="3.8" ry="7.2" fill="#cfcdc5"/><ellipse cx="1155.0" cy="315.8" rx="3.8" ry="7.2" fill="#3f3d38"/><ellipse cx="1166.8" cy="316.2" rx="3.9" ry="7.3" fill="#cfcdc5"/><ellipse cx="1168.7" cy="315.2" rx="3.9" ry="7.3" fill="#3f3d38"/><ellipse cx="1180.8" cy="315.6" rx="4.0" ry="7.3" fill="#cfcdc5"/><ellipse cx="1182.7" cy="314.6" rx="4.0" ry="7.3" fill="#3f3d38"/><ellipse cx="1195.0" cy="314.9" rx="4.1" ry="7.4" fill="#cfcdc5"/><ellipse cx="1196.9" cy="313.9" rx="4.1" ry="7.4" fill="#3f3d38"/><ellipse cx="1209.5" cy="314.3" rx="4.2" ry="7.5" fill="#cfcdc5"/><ellipse cx="1211.4" cy="313.3" rx="4.2" ry="7.5" fill="#3f3d38"/><ellipse cx="1224.3" cy="313.7" rx="4.2" ry="7.6" fill="#cfcdc5"/><ellipse cx="1226.2" cy="312.7" rx="4.2" ry="7.6" fill="#3f3d38"/><ellipse cx="1017.9" cy="341.3" rx="3.1" ry="6.5" fill="#cfcdc5"/><ellipse cx="1019.8" cy="340.3" rx="3.1" ry="6.5" fill="#3f3d38"/><ellipse cx="1029.1" cy="340.9" rx="3.2" ry="6.5" fill="#cfcdc5"/><ellipse cx="1031.0" cy="339.9" rx="3.2" ry="6.5" fill="#3f3d38"/><ellipse cx="1040.5" cy="340.6" rx="3.2" ry="6.6" fill="#cfcdc5"/><ellipse cx="1042.4" cy="339.6" rx="3.2" ry="6.6" fill="#3f3d38"/><ellipse cx="1052.0" cy="340.3" rx="3.3" ry="6.6" fill="#cfcdc5"/><ellipse cx="1053.9" cy="339.3" rx="3.3" ry="6.6" fill="#3f3d38"/><ellipse cx="1063.8" cy="339.9" rx="3.4" ry="6.7" fill="#cfcdc5"/><ellipse cx="1065.7" cy="338.9" rx="3.4" ry="6.7" fill="#3f3d38"/><ellipse cx="1075.8" cy="339.6" rx="3.4" ry="6.8" fill="#cfcdc5"/><ellipse cx="1077.7" cy="338.6" rx="3.4" ry="6.8" fill="#3f3d38"/><ellipse cx="1088.0" cy="339.2" rx="3.5" ry="6.8" fill="#cfcdc5"/><ellipse cx="1089.9" cy="338.2" rx="3.5" ry="6.8" fill="#3f3d38"/><ellipse cx="1100.5" cy="338.9" rx="3.5" ry="6.9" fill="#cfcdc5"/><ellipse cx="1102.4" cy="337.9" rx="3.5" ry="6.9" fill="#3f3d38"/><ellipse cx="1113.1" cy="338.5" rx="3.6" ry="7.0" fill="#cfcdc5"/><ellipse cx="1115.0" cy="337.5" rx="3.6" ry="7.0" fill="#3f3d38"/><ellipse cx="1126.1" cy="338.1" rx="3.7" ry="7.0" fill="#cfcdc5"/><ellipse cx="1128.0" cy="337.1" rx="3.7" ry="7.0" fill="#3f3d38"/><ellipse cx="1139.2" cy="337.7" rx="3.8" ry="7.1" fill="#cfcdc5"/><ellipse cx="1141.1" cy="336.7" rx="3.8" ry="7.1" fill="#3f3d38"/><ellipse cx="1152.6" cy="337.3" rx="3.8" ry="7.2" fill="#cfcdc5"/><ellipse cx="1154.5" cy="336.3" rx="3.8" ry="7.2" fill="#3f3d38"/><ellipse cx="1166.3" cy="336.9" rx="3.9" ry="7.2" fill="#cfcdc5"/><ellipse cx="1168.2" cy="335.9" rx="3.9" ry="7.2" fill="#3f3d38"/><ellipse cx="1180.2" cy="336.5" rx="4.0" ry="7.3" fill="#cfcdc5"/><ellipse cx="1182.1" cy="335.5" rx="4.0" ry="7.3" fill="#3f3d38"/><ellipse cx="1194.4" cy="336.1" rx="4.1" ry="7.4" fill="#cfcdc5"/><ellipse cx="1196.3" cy="335.1" rx="4.1" ry="7.4" fill="#3f3d38"/><ellipse cx="1208.8" cy="335.7" rx="4.1" ry="7.4" fill="#cfcdc5"/><ellipse cx="1210.7" cy="334.7" rx="4.1" ry="7.4" fill="#3f3d38"/><ellipse cx="1223.6" cy="335.2" rx="4.2" ry="7.5" fill="#cfcdc5"/><ellipse cx="1225.5" cy="334.2" rx="4.2" ry="7.5" fill="#3f3d38"/><ellipse cx="1017.7" cy="359.8" rx="3.1" ry="6.4" fill="#cfcdc5"/><ellipse cx="1019.6" cy="358.8" rx="3.1" ry="6.4" fill="#3f3d38"/><ellipse cx="1028.9" cy="359.6" rx="3.2" ry="6.5" fill="#cfcdc5"/><ellipse cx="1030.8" cy="358.6" rx="3.2" ry="6.5" fill="#3f3d38"/><ellipse cx="1040.2" cy="359.4" rx="3.2" ry="6.6" fill="#cfcdc5"/><ellipse cx="1042.1" cy="358.4" rx="3.2" ry="6.6" fill="#3f3d38"/><ellipse cx="1051.8" cy="359.3" rx="3.3" ry="6.6" fill="#cfcdc5"/><ellipse cx="1053.7" cy="358.3" rx="3.3" ry="6.6" fill="#3f3d38"/><ellipse cx="1063.5" cy="359.1" rx="3.4" ry="6.7" fill="#cfcdc5"/><ellipse cx="1065.4" cy="358.1" rx="3.4" ry="6.7" fill="#3f3d38"/><ellipse cx="1075.5" cy="358.9" rx="3.4" ry="6.7" fill="#cfcdc5"/><ellipse cx="1077.4" cy="357.9" rx="3.4" ry="6.7" fill="#3f3d38"/><ellipse cx="1087.7" cy="358.7" rx="3.5" ry="6.8" fill="#cfcdc5"/><ellipse cx="1089.6" cy="357.7" rx="3.5" ry="6.8" fill="#3f3d38"/><ellipse cx="1100.1" cy="358.5" rx="3.5" ry="6.9" fill="#cfcdc5"/><ellipse cx="1102.0" cy="357.5" rx="3.5" ry="6.9" fill="#3f3d38"/><ellipse cx="1112.7" cy="358.4" rx="3.6" ry="6.9" fill="#cfcdc5"/><ellipse cx="1114.6" cy="357.4" rx="3.6" ry="6.9" fill="#3f3d38"/><ellipse cx="1125.6" cy="358.2" rx="3.7" ry="7.0" fill="#cfcdc5"/><ellipse cx="1127.5" cy="357.2" rx="3.7" ry="7.0" fill="#3f3d38"/><ellipse cx="1138.7" cy="358.0" rx="3.7" ry="7.1" fill="#cfcdc5"/><ellipse cx="1140.6" cy="357.0" rx="3.7" ry="7.1" fill="#3f3d38"/><ellipse cx="1152.1" cy="357.8" rx="3.8" ry="7.1" fill="#cfcdc5"/><ellipse cx="1154.0" cy="356.8" rx="3.8" ry="7.1" fill="#3f3d38"/><ellipse cx="1165.7" cy="357.6" rx="3.9" ry="7.2" fill="#cfcdc5"/><ellipse cx="1167.6" cy="356.6" rx="3.9" ry="7.2" fill="#3f3d38"/><ellipse cx="1179.6" cy="357.4" rx="4.0" ry="7.3" fill="#cfcdc5"/><ellipse cx="1181.5" cy="356.4" rx="4.0" ry="7.3" fill="#3f3d38"/><ellipse cx="1193.7" cy="357.1" rx="4.0" ry="7.3" fill="#cfcdc5"/><ellipse cx="1195.6" cy="356.1" rx="4.0" ry="7.3" fill="#3f3d38"/><ellipse cx="1208.1" cy="356.9" rx="4.1" ry="7.4" fill="#cfcdc5"/><ellipse cx="1210.0" cy="355.9" rx="4.1" ry="7.4" fill="#3f3d38"/><ellipse cx="1222.9" cy="356.7" rx="4.2" ry="7.5" fill="#cfcdc5"/><ellipse cx="1224.8" cy="355.7" rx="4.2" ry="7.5" fill="#3f3d38"/><ellipse cx="1017.6" cy="378.2" rx="3.1" ry="6.4" fill="#cfcdc5"/><ellipse cx="1019.5" cy="377.2" rx="3.1" ry="6.4" fill="#3f3d38"/><ellipse cx="1028.7" cy="378.2" rx="3.2" ry="6.5" fill="#cfcdc5"/><ellipse cx="1030.6" cy="377.2" rx="3.2" ry="6.5" fill="#3f3d38"/><ellipse cx="1040.0" cy="378.2" rx="3.2" ry="6.5" fill="#cfcdc5"/><ellipse cx="1041.9" cy="377.2" rx="3.2" ry="6.5" fill="#3f3d38"/><ellipse cx="1051.5" cy="378.2" rx="3.3" ry="6.6" fill="#cfcdc5"/><ellipse cx="1053.4" cy="377.2" rx="3.3" ry="6.6" fill="#3f3d38"/><ellipse cx="1063.3" cy="378.2" rx="3.3" ry="6.6" fill="#cfcdc5"/><ellipse cx="1065.2" cy="377.2" rx="3.3" ry="6.6" fill="#3f3d38"/><ellipse cx="1075.2" cy="378.2" rx="3.4" ry="6.7" fill="#cfcdc5"/><ellipse cx="1077.1" cy="377.2" rx="3.4" ry="6.7" fill="#3f3d38"/><ellipse cx="1087.4" cy="378.2" rx="3.5" ry="6.8" fill="#cfcdc5"/><ellipse cx="1089.3" cy="377.2" rx="3.5" ry="6.8" fill="#3f3d38"/><ellipse cx="1099.7" cy="378.1" rx="3.5" ry="6.8" fill="#cfcdc5"/><ellipse cx="1101.6" cy="377.1" rx="3.5" ry="6.8" fill="#3f3d38"/><ellipse cx="1112.3" cy="378.1" rx="3.6" ry="6.9" fill="#cfcdc5"/><ellipse cx="1114.2" cy="377.1" rx="3.6" ry="6.9" fill="#3f3d38"/><ellipse cx="1125.2" cy="378.1" rx="3.7" ry="7.0" fill="#cfcdc5"/><ellipse cx="1127.1" cy="377.1" rx="3.7" ry="7.0" fill="#3f3d38"/><ellipse cx="1138.2" cy="378.1" rx="3.7" ry="7.0" fill="#cfcdc5"/><ellipse cx="1140.1" cy="377.1" rx="3.7" ry="7.0" fill="#3f3d38"/><ellipse cx="1151.6" cy="378.1" rx="3.8" ry="7.1" fill="#cfcdc5"/><ellipse cx="1153.5" cy="377.1" rx="3.8" ry="7.1" fill="#3f3d38"/><ellipse cx="1165.1" cy="378.1" rx="3.9" ry="7.2" fill="#cfcdc5"/><ellipse cx="1167.0" cy="377.1" rx="3.9" ry="7.2" fill="#3f3d38"/><ellipse cx="1179.0" cy="378.1" rx="3.9" ry="7.2" fill="#cfcdc5"/><ellipse cx="1180.9" cy="377.1" rx="3.9" ry="7.2" fill="#3f3d38"/><ellipse cx="1193.1" cy="378.1" rx="4.0" ry="7.3" fill="#cfcdc5"/><ellipse cx="1195.0" cy="377.1" rx="4.0" ry="7.3" fill="#3f3d38"/><ellipse cx="1207.5" cy="378.1" rx="4.1" ry="7.4" fill="#cfcdc5"/><ellipse cx="1209.4" cy="377.1" rx="4.1" ry="7.4" fill="#3f3d38"/><ellipse cx="1222.1" cy="378.1" rx="4.2" ry="7.4" fill="#cfcdc5"/><ellipse cx="1224.0" cy="377.1" rx="4.2" ry="7.4" fill="#3f3d38"/><ellipse cx="1017.4" cy="396.5" rx="3.1" ry="6.4" fill="#cfcdc5"/><ellipse cx="1019.3" cy="395.5" rx="3.1" ry="6.4" fill="#3f3d38"/><ellipse cx="1028.5" cy="396.7" rx="3.2" ry="6.4" fill="#cfcdc5"/><ellipse cx="1030.4" cy="395.7" rx="3.2" ry="6.4" fill="#3f3d38"/><ellipse cx="1039.8" cy="396.8" rx="3.2" ry="6.5" fill="#cfcdc5"/><ellipse cx="1041.7" cy="395.8" rx="3.2" ry="6.5" fill="#3f3d38"/><ellipse cx="1051.3" cy="397.0" rx="3.3" ry="6.6" fill="#cfcdc5"/><ellipse cx="1053.2" cy="396.0" rx="3.3" ry="6.6" fill="#3f3d38"/><ellipse cx="1063.0" cy="397.2" rx="3.3" ry="6.6" fill="#cfcdc5"/><ellipse cx="1064.9" cy="396.2" rx="3.3" ry="6.6" fill="#3f3d38"/><ellipse cx="1074.9" cy="397.3" rx="3.4" ry="6.7" fill="#cfcdc5"/><ellipse cx="1076.8" cy="396.3" rx="3.4" ry="6.7" fill="#3f3d38"/><ellipse cx="1087.0" cy="397.5" rx="3.5" ry="6.7" fill="#cfcdc5"/><ellipse cx="1088.9" cy="396.5" rx="3.5" ry="6.7" fill="#3f3d38"/><ellipse cx="1099.4" cy="397.6" rx="3.5" ry="6.8" fill="#cfcdc5"/><ellipse cx="1101.3" cy="396.6" rx="3.5" ry="6.8" fill="#3f3d38"/><ellipse cx="1111.9" cy="397.8" rx="3.6" ry="6.9" fill="#cfcdc5"/><ellipse cx="1113.8" cy="396.8" rx="3.6" ry="6.9" fill="#3f3d38"/><ellipse cx="1124.7" cy="398.0" rx="3.7" ry="6.9" fill="#cfcdc5"/><ellipse cx="1126.6" cy="397.0" rx="3.7" ry="6.9" fill="#3f3d38"/><ellipse cx="1137.8" cy="398.2" rx="3.7" ry="7.0" fill="#cfcdc5"/><ellipse cx="1139.7" cy="397.2" rx="3.7" ry="7.0" fill="#3f3d38"/><ellipse cx="1151.0" cy="398.3" rx="3.8" ry="7.0" fill="#cfcdc5"/><ellipse cx="1152.9" cy="397.3" rx="3.8" ry="7.0" fill="#3f3d38"/><ellipse cx="1164.6" cy="398.5" rx="3.9" ry="7.1" fill="#cfcdc5"/><ellipse cx="1166.5" cy="397.5" rx="3.9" ry="7.1" fill="#3f3d38"/><ellipse cx="1178.4" cy="398.7" rx="3.9" ry="7.2" fill="#cfcdc5"/><ellipse cx="1180.3" cy="397.7" rx="3.9" ry="7.2" fill="#3f3d38"/><ellipse cx="1192.4" cy="398.9" rx="4.0" ry="7.3" fill="#cfcdc5"/><ellipse cx="1194.3" cy="397.9" rx="4.0" ry="7.3" fill="#3f3d38"/><ellipse cx="1206.8" cy="399.1" rx="4.1" ry="7.3" fill="#cfcdc5"/><ellipse cx="1208.7" cy="398.1" rx="4.1" ry="7.3" fill="#3f3d38"/><ellipse cx="1221.4" cy="399.3" rx="4.2" ry="7.4" fill="#cfcdc5"/><ellipse cx="1223.3" cy="398.3" rx="4.2" ry="7.4" fill="#3f3d38"/><ellipse cx="1017.2" cy="414.8" rx="3.1" ry="6.4" fill="#cfcdc5"/><ellipse cx="1019.1" cy="413.8" rx="3.1" ry="6.4" fill="#3f3d38"/><ellipse cx="1028.3" cy="415.1" rx="3.2" ry="6.4" fill="#cfcdc5"/><ellipse cx="1030.2" cy="414.1" rx="3.2" ry="6.4" fill="#3f3d38"/><ellipse cx="1039.6" cy="415.4" rx="3.2" ry="6.5" fill="#cfcdc5"/><ellipse cx="1041.5" cy="414.4" rx="3.2" ry="6.5" fill="#3f3d38"/><ellipse cx="1051.0" cy="415.7" rx="3.3" ry="6.5" fill="#cfcdc5"/><ellipse cx="1052.9" cy="414.7" rx="3.3" ry="6.5" fill="#3f3d38"/><ellipse cx="1062.7" cy="416.1" rx="3.3" ry="6.6" fill="#cfcdc5"/><ellipse cx="1064.6" cy="415.1" rx="3.3" ry="6.6" fill="#3f3d38"/><ellipse cx="1074.6" cy="416.4" rx="3.4" ry="6.6" fill="#cfcdc5"/><ellipse cx="1076.5" cy="415.4" rx="3.4" ry="6.6" fill="#3f3d38"/><ellipse cx="1086.7" cy="416.7" rx="3.4" ry="6.7" fill="#cfcdc5"/><ellipse cx="1088.6" cy="415.7" rx="3.4" ry="6.7" fill="#3f3d38"/><ellipse cx="1099.0" cy="417.1" rx="3.5" ry="6.8" fill="#cfcdc5"/><ellipse cx="1100.9" cy="416.1" rx="3.5" ry="6.8" fill="#3f3d38"/><ellipse cx="1111.5" cy="417.4" rx="3.6" ry="6.8" fill="#cfcdc5"/><ellipse cx="1113.4" cy="416.4" rx="3.6" ry="6.8" fill="#3f3d38"/><ellipse cx="1124.3" cy="417.8" rx="3.6" ry="6.9" fill="#cfcdc5"/><ellipse cx="1126.2" cy="416.8" rx="3.6" ry="6.9" fill="#3f3d38"/><ellipse cx="1137.3" cy="418.1" rx="3.7" ry="6.9" fill="#cfcdc5"/><ellipse cx="1139.2" cy="417.1" rx="3.7" ry="6.9" fill="#3f3d38"/><ellipse cx="1150.5" cy="418.5" rx="3.8" ry="7.0" fill="#cfcdc5"/><ellipse cx="1152.4" cy="417.5" rx="3.8" ry="7.0" fill="#3f3d38"/><ellipse cx="1164.0" cy="418.9" rx="3.9" ry="7.1" fill="#cfcdc5"/><ellipse cx="1165.9" cy="417.9" rx="3.9" ry="7.1" fill="#3f3d38"/><ellipse cx="1177.8" cy="419.2" rx="3.9" ry="7.1" fill="#cfcdc5"/><ellipse cx="1179.7" cy="418.2" rx="3.9" ry="7.1" fill="#3f3d38"/><ellipse cx="1191.8" cy="419.6" rx="4.0" ry="7.2" fill="#cfcdc5"/><ellipse cx="1193.7" cy="418.6" rx="4.0" ry="7.2" fill="#3f3d38"/><ellipse cx="1206.1" cy="420.0" rx="4.1" ry="7.3" fill="#cfcdc5"/><ellipse cx="1208.0" cy="419.0" rx="4.1" ry="7.3" fill="#3f3d38"/><ellipse cx="1220.7" cy="420.4" rx="4.2" ry="7.4" fill="#cfcdc5"/><ellipse cx="1222.6" cy="419.4" rx="4.2" ry="7.4" fill="#3f3d38"/><ellipse cx="1017.1" cy="433.0" rx="3.1" ry="6.3" fill="#cfcdc5"/><ellipse cx="1019.0" cy="432.0" rx="3.1" ry="6.3" fill="#3f3d38"/><ellipse cx="1028.1" cy="433.4" rx="3.1" ry="6.4" fill="#cfcdc5"/><ellipse cx="1030.0" cy="432.4" rx="3.1" ry="6.4" fill="#3f3d38"/><ellipse cx="1039.4" cy="433.9" rx="3.2" ry="6.4" fill="#cfcdc5"/><ellipse cx="1041.3" cy="432.9" rx="3.2" ry="6.4" fill="#3f3d38"/><ellipse cx="1050.8" cy="434.4" rx="3.3" ry="6.5" fill="#cfcdc5"/><ellipse cx="1052.7" cy="433.4" rx="3.3" ry="6.5" fill="#3f3d38"/><ellipse cx="1062.4" cy="434.9" rx="3.3" ry="6.6" fill="#cfcdc5"/><ellipse cx="1064.3" cy="433.9" rx="3.3" ry="6.6" fill="#3f3d38"/><ellipse cx="1074.3" cy="435.4" rx="3.4" ry="6.6" fill="#cfcdc5"/><ellipse cx="1076.2" cy="434.4" rx="3.4" ry="6.6" fill="#3f3d38"/><ellipse cx="1086.3" cy="435.9" rx="3.4" ry="6.7" fill="#cfcdc5"/><ellipse cx="1088.2" cy="434.9" rx="3.4" ry="6.7" fill="#3f3d38"/><ellipse cx="1098.6" cy="436.4" rx="3.5" ry="6.7" fill="#cfcdc5"/><ellipse cx="1100.5" cy="435.4" rx="3.5" ry="6.7" fill="#3f3d38"/><ellipse cx="1111.1" cy="436.9" rx="3.6" ry="6.8" fill="#cfcdc5"/><ellipse cx="1113.0" cy="435.9" rx="3.6" ry="6.8" fill="#3f3d38"/><ellipse cx="1123.8" cy="437.4" rx="3.6" ry="6.9" fill="#cfcdc5"/><ellipse cx="1125.7" cy="436.4" rx="3.6" ry="6.9" fill="#3f3d38"/><ellipse cx="1136.8" cy="438.0" rx="3.7" ry="6.9" fill="#cfcdc5"/><ellipse cx="1138.7" cy="437.0" rx="3.7" ry="6.9" fill="#3f3d38"/><ellipse cx="1150.0" cy="438.5" rx="3.8" ry="7.0" fill="#cfcdc5"/><ellipse cx="1151.9" cy="437.5" rx="3.8" ry="7.0" fill="#3f3d38"/><ellipse cx="1163.5" cy="439.1" rx="3.8" ry="7.0" fill="#cfcdc5"/><ellipse cx="1165.4" cy="438.1" rx="3.8" ry="7.0" fill="#3f3d38"/><ellipse cx="1177.2" cy="439.6" rx="3.9" ry="7.1" fill="#cfcdc5"/><ellipse cx="1179.1" cy="438.6" rx="3.9" ry="7.1" fill="#3f3d38"/><ellipse cx="1191.2" cy="440.2" rx="4.0" ry="7.2" fill="#cfcdc5"/><ellipse cx="1193.1" cy="439.2" rx="4.0" ry="7.2" fill="#3f3d38"/><ellipse cx="1205.4" cy="440.8" rx="4.1" ry="7.2" fill="#cfcdc5"/><ellipse cx="1207.3" cy="439.8" rx="4.1" ry="7.2" fill="#3f3d38"/><ellipse cx="1219.9" cy="441.4" rx="4.2" ry="7.3" fill="#cfcdc5"/><ellipse cx="1221.8" cy="440.4" rx="4.2" ry="7.3" fill="#3f3d38"/><ellipse cx="1016.9" cy="451.0" rx="3.1" ry="6.3" fill="#cfcdc5"/><ellipse cx="1018.8" cy="450.0" rx="3.1" ry="6.3" fill="#3f3d38"/><ellipse cx="1027.9" cy="451.7" rx="3.1" ry="6.4" fill="#cfcdc5"/><ellipse cx="1029.8" cy="450.7" rx="3.1" ry="6.4" fill="#3f3d38"/><ellipse cx="1039.2" cy="452.3" rx="3.2" ry="6.4" fill="#cfcdc5"/><ellipse cx="1041.1" cy="451.3" rx="3.2" ry="6.4" fill="#3f3d38"/><ellipse cx="1050.6" cy="452.9" rx="3.3" ry="6.5" fill="#cfcdc5"/><ellipse cx="1052.5" cy="451.9" rx="3.3" ry="6.5" fill="#3f3d38"/><ellipse cx="1062.2" cy="453.6" rx="3.3" ry="6.5" fill="#cfcdc5"/><ellipse cx="1064.1" cy="452.6" rx="3.3" ry="6.5" fill="#3f3d38"/><ellipse cx="1074.0" cy="454.2" rx="3.4" ry="6.6" fill="#cfcdc5"/><ellipse cx="1075.9" cy="453.2" rx="3.4" ry="6.6" fill="#3f3d38"/><ellipse cx="1086.0" cy="454.9" rx="3.4" ry="6.6" fill="#cfcdc5"/><ellipse cx="1087.9" cy="453.9" rx="3.4" ry="6.6" fill="#3f3d38"/><ellipse cx="1098.2" cy="455.6" rx="3.5" ry="6.7" fill="#cfcdc5"/><ellipse cx="1100.1" cy="454.6" rx="3.5" ry="6.7" fill="#3f3d38"/><ellipse cx="1110.7" cy="456.3" rx="3.6" ry="6.8" fill="#cfcdc5"/><ellipse cx="1112.6" cy="455.3" rx="3.6" ry="6.8" fill="#3f3d38"/><ellipse cx="1123.4" cy="457.0" rx="3.6" ry="6.8" fill="#cfcdc5"/><ellipse cx="1125.3" cy="456.0" rx="3.6" ry="6.8" fill="#3f3d38"/><ellipse cx="1136.3" cy="457.7" rx="3.7" ry="6.9" fill="#cfcdc5"/><ellipse cx="1138.2" cy="456.7" rx="3.7" ry="6.9" fill="#3f3d38"/><ellipse cx="1149.5" cy="458.4" rx="3.8" ry="6.9" fill="#cfcdc5"/><ellipse cx="1151.4" cy="457.4" rx="3.8" ry="6.9" fill="#3f3d38"/><ellipse cx="1162.9" cy="459.2" rx="3.8" ry="7.0" fill="#cfcdc5"/><ellipse cx="1164.8" cy="458.2" rx="3.8" ry="7.0" fill="#3f3d38"/><ellipse cx="1176.6" cy="460.0" rx="3.9" ry="7.1" fill="#cfcdc5"/><ellipse cx="1178.5" cy="459.0" rx="3.9" ry="7.1" fill="#403d38"/><ellipse cx="1190.5" cy="460.7" rx="4.0" ry="7.1" fill="#cfcdc5"/><ellipse cx="1192.4" cy="459.7" rx="4.0" ry="7.1" fill="#403e38"/><ellipse cx="1204.7" cy="461.5" rx="4.1" ry="7.2" fill="#cfcdc5"/><ellipse cx="1206.6" cy="460.5" rx="4.1" ry="7.2" fill="#403e39"/><ellipse cx="1219.2" cy="462.3" rx="4.1" ry="7.3" fill="#cfcdc5"/><ellipse cx="1221.1" cy="461.3" rx="4.1" ry="7.3" fill="#403e39"/><ellipse cx="1016.8" cy="469.0" rx="3.1" ry="6.3" fill="#cfcdc5"/><ellipse cx="1018.7" cy="468.0" rx="3.1" ry="6.3" fill="#403e39"/><ellipse cx="1027.8" cy="469.8" rx="3.1" ry="6.3" fill="#cfcdc5"/><ellipse cx="1029.7" cy="468.8" rx="3.1" ry="6.3" fill="#403e39"/><ellipse cx="1038.9" cy="470.6" rx="3.2" ry="6.4" fill="#cfcdc5"/><ellipse cx="1040.8" cy="469.6" rx="3.2" ry="6.4" fill="#403e39"/><ellipse cx="1050.3" cy="471.4" rx="3.2" ry="6.4" fill="#cfcdc5"/><ellipse cx="1052.2" cy="470.4" rx="3.2" ry="6.4" fill="#403e39"/><ellipse cx="1061.9" cy="472.2" rx="3.3" ry="6.5" fill="#cfcdc5"/><ellipse cx="1063.8" cy="471.2" rx="3.3" ry="6.5" fill="#403e39"/><ellipse cx="1073.7" cy="473.0" rx="3.4" ry="6.5" fill="#cfcdc5"/><ellipse cx="1075.6" cy="472.0" rx="3.4" ry="6.5" fill="#403e39"/><ellipse cx="1085.7" cy="473.9" rx="3.4" ry="6.6" fill="#cfcdc5"/><ellipse cx="1087.6" cy="472.9" rx="3.4" ry="6.6" fill="#403e39"/><ellipse cx="1097.9" cy="474.7" rx="3.5" ry="6.7" fill="#cfcdc5"/><ellipse cx="1099.8" cy="473.7" rx="3.5" ry="6.7" fill="#403e39"/><ellipse cx="1110.3" cy="475.6" rx="3.6" ry="6.7" fill="#cfcdc5"/><ellipse cx="1112.2" cy="474.6" rx="3.6" ry="6.7" fill="#403e39"/><ellipse cx="1123.0" cy="476.5" rx="3.6" ry="6.8" fill="#cfcdc5"/><ellipse cx="1124.9" cy="475.5" rx="3.6" ry="6.8" fill="#403e39"/><ellipse cx="1135.9" cy="477.4" rx="3.7" ry="6.8" fill="#cfcdc5"/><ellipse cx="1137.8" cy="476.4" rx="3.7" ry="6.8" fill="#413e39"/><ellipse cx="1149.0" cy="478.3" rx="3.8" ry="6.9" fill="#cfcdc5"/><ellipse cx="1150.9" cy="477.3" rx="3.8" ry="6.9" fill="#413e39"/><ellipse cx="1162.4" cy="479.2" rx="3.8" ry="7.0" fill="#cfcdc5"/><ellipse cx="1164.3" cy="478.2" rx="3.8" ry="7.0" fill="#413f39"/><ellipse cx="1176.0" cy="480.2" rx="3.9" ry="7.0" fill="#cfcdc5"/><ellipse cx="1177.9" cy="479.2" rx="3.9" ry="7.0" fill="#413f39"/><ellipse cx="1189.9" cy="481.1" rx="4.0" ry="7.1" fill="#cfcdc5"/><ellipse cx="1191.8" cy="480.1" rx="4.0" ry="7.1" fill="#413f3a"/><ellipse cx="1204.1" cy="482.1" rx="4.1" ry="7.2" fill="#cfcdc5"/><ellipse cx="1206.0" cy="481.1" rx="4.1" ry="7.2" fill="#413f3a"/><ellipse cx="1218.5" cy="483.1" rx="4.1" ry="7.2" fill="#cfcdc5"/><ellipse cx="1220.4" cy="482.1" rx="4.1" ry="7.2" fill="#413f3a"/><ellipse cx="1016.6" cy="487.0" rx="3.1" ry="6.2" fill="#cfcdc5"/><ellipse cx="1018.5" cy="486.0" rx="3.1" ry="6.2" fill="#413f3a"/><ellipse cx="1027.6" cy="487.9" rx="3.1" ry="6.3" fill="#cfcdc5"/><ellipse cx="1029.5" cy="486.9" rx="3.1" ry="6.3" fill="#413f3a"/><ellipse cx="1038.7" cy="488.8" rx="3.2" ry="6.3" fill="#cfcdc5"/><ellipse cx="1040.6" cy="487.8" rx="3.2" ry="6.3" fill="#413f3a"/><ellipse cx="1050.1" cy="489.8" rx="3.2" ry="6.4" fill="#cfcdc5"/><ellipse cx="1052.0" cy="488.8" rx="3.2" ry="6.4" fill="#413f3a"/><ellipse cx="1061.6" cy="490.7" rx="3.3" ry="6.5" fill="#cfcdc5"/><ellipse cx="1063.5" cy="489.7" rx="3.3" ry="6.5" fill="#413f3a"/><ellipse cx="1073.4" cy="491.7" rx="3.4" ry="6.5" fill="#cfcdc5"/><ellipse cx="1075.3" cy="490.7" rx="3.4" ry="6.5" fill="#413f3a"/><ellipse cx="1085.3" cy="492.7" rx="3.4" ry="6.6" fill="#cfcdc5"/><ellipse cx="1087.2" cy="491.7" rx="3.4" ry="6.6" fill="#413f3a"/><ellipse cx="1097.5" cy="493.7" rx="3.5" ry="6.6" fill="#cfcdc5"/><ellipse cx="1099.4" cy="492.7" rx="3.5" ry="6.6" fill="#413f3a"/><ellipse cx="1109.9" cy="494.8" rx="3.5" ry="6.7" fill="#cfcdc5"/><ellipse cx="1111.8" cy="493.8" rx="3.5" ry="6.7" fill="#423f3a"/><ellipse cx="1122.5" cy="495.8" rx="3.6" ry="6.7" fill="#cfcdc5"/><ellipse cx="1124.4" cy="494.8" rx="3.6" ry="6.7" fill="#423f3a"/><ellipse cx="1135.4" cy="496.9" rx="3.7" ry="6.8" fill="#cfcdc5"/><ellipse cx="1137.3" cy="495.9" rx="3.7" ry="6.8" fill="#423f3a"/><ellipse cx="1148.5" cy="498.0" rx="3.7" ry="6.9" fill="#cfcdc5"/><ellipse cx="1150.4" cy="497.0" rx="3.7" ry="6.9" fill="#42403a"/><ellipse cx="1161.8" cy="499.1" rx="3.8" ry="6.9" fill="#cfcdc5"/><ellipse cx="1163.7" cy="498.1" rx="3.8" ry="6.9" fill="#42403a"/><ellipse cx="1175.4" cy="500.3" rx="3.9" ry="7.0" fill="#cfcdc5"/><ellipse cx="1177.3" cy="499.3" rx="3.9" ry="7.0" fill="#42403a"/><ellipse cx="1189.3" cy="501.4" rx="4.0" ry="7.1" fill="#cfcdc5"/><ellipse cx="1191.2" cy="500.4" rx="4.0" ry="7.1" fill="#42403b"/><ellipse cx="1203.4" cy="502.6" rx="4.0" ry="7.1" fill="#cfcdc5"/><ellipse cx="1205.3" cy="501.6" rx="4.0" ry="7.1" fill="#42403b"/><ellipse cx="1217.8" cy="503.8" rx="4.1" ry="7.2" fill="#cfcdc5"/><ellipse cx="1219.7" cy="502.8" rx="4.1" ry="7.2" fill="#42403b"/><ellipse cx="1016.4" cy="504.8" rx="3.1" ry="6.2" fill="#cfcdc5"/><ellipse cx="1018.3" cy="503.8" rx="3.1" ry="6.2" fill="#42403b"/><ellipse cx="1027.4" cy="505.9" rx="3.1" ry="6.3" fill="#cfcdc5"/><ellipse cx="1029.3" cy="504.9" rx="3.1" ry="6.3" fill="#42403b"/><ellipse cx="1038.5" cy="507.0" rx="3.2" ry="6.3" fill="#cfcdc5"/><ellipse cx="1040.4" cy="506.0" rx="3.2" ry="6.3" fill="#42403b"/><ellipse cx="1049.8" cy="508.1" rx="3.2" ry="6.4" fill="#cfcdc5"/><ellipse cx="1051.7" cy="507.1" rx="3.2" ry="6.4" fill="#42403b"/><ellipse cx="1061.4" cy="509.2" rx="3.3" ry="6.4" fill="#cfcdc5"/><ellipse cx="1063.3" cy="508.2" rx="3.3" ry="6.4" fill="#42403b"/><ellipse cx="1073.1" cy="510.3" rx="3.4" ry="6.5" fill="#cfcdc5"/><ellipse cx="1075.0" cy="509.3" rx="3.4" ry="6.5" fill="#42403b"/><ellipse cx="1085.0" cy="511.5" rx="3.4" ry="6.5" fill="#cfcdc5"/><ellipse cx="1086.9" cy="510.5" rx="3.4" ry="6.5" fill="#42403b"/><ellipse cx="1097.2" cy="512.7" rx="3.5" ry="6.6" fill="#cfcdc5"/><ellipse cx="1099.1" cy="511.7" rx="3.5" ry="6.6" fill="#43403b"/><ellipse cx="1109.5" cy="513.9" rx="3.5" ry="6.7" fill="#cfcdc5"/><ellipse cx="1111.4" cy="512.9" rx="3.5" ry="6.7" fill="#43403b"/><ellipse cx="1122.1" cy="515.1" rx="3.6" ry="6.7" fill="#cfcdc5"/><ellipse cx="1124.0" cy="514.1" rx="3.6" ry="6.7" fill="#43403b"/><ellipse cx="1134.9" cy="516.4" rx="3.7" ry="6.8" fill="#cfcdc5"/><ellipse cx="1136.8" cy="515.4" rx="3.7" ry="6.8" fill="#43413b"/><ellipse cx="1148.0" cy="517.6" rx="3.7" ry="6.8" fill="#cfcdc5"/><ellipse cx="1149.9" cy="516.6" rx="3.7" ry="6.8" fill="#43413b"/><ellipse cx="1161.3" cy="518.9" rx="3.8" ry="6.9" fill="#cfcdc5"/><ellipse cx="1163.2" cy="517.9" rx="3.8" ry="6.9" fill="#43413b"/><ellipse cx="1174.8" cy="520.3" rx="3.9" ry="7.0" fill="#cfcdc5"/><ellipse cx="1176.7" cy="519.3" rx="3.9" ry="7.0" fill="#43413b"/><ellipse cx="1188.6" cy="521.6" rx="4.0" ry="7.0" fill="#cfcdc5"/><ellipse cx="1190.5" cy="520.6" rx="4.0" ry="7.0" fill="#43413c"/><ellipse cx="1202.7" cy="523.0" rx="4.0" ry="7.1" fill="#cfcdc5"/><ellipse cx="1204.6" cy="522.0" rx="4.0" ry="7.1" fill="#43413c"/><ellipse cx="1217.1" cy="524.4" rx="4.1" ry="7.2" fill="#cfcdc5"/><ellipse cx="1219.0" cy="523.4" rx="4.1" ry="7.2" fill="#43413c"/><ellipse cx="1016.3" cy="522.6" rx="3.1" ry="6.2" fill="#cfcdc5"/><ellipse cx="1018.2" cy="521.6" rx="3.1" ry="6.2" fill="#43413c"/><ellipse cx="1027.2" cy="523.8" rx="3.1" ry="6.2" fill="#cfcdc5"/><ellipse cx="1029.1" cy="522.8" rx="3.1" ry="6.2" fill="#43413c"/><ellipse cx="1038.3" cy="525.0" rx="3.2" ry="6.3" fill="#cfcdc5"/><ellipse cx="1040.2" cy="524.0" rx="3.2" ry="6.3" fill="#43413c"/><ellipse cx="1049.6" cy="526.3" rx="3.2" ry="6.3" fill="#cfcdc5"/><ellipse cx="1051.5" cy="525.3" rx="3.2" ry="6.3" fill="#43413c"/><ellipse cx="1061.1" cy="527.6" rx="3.3" ry="6.4" fill="#cfcdc5"/><ellipse cx="1063.0" cy="526.6" rx="3.3" ry="6.4" fill="#43413c"/><ellipse cx="1072.8" cy="528.9" rx="3.4" ry="6.5" fill="#cfcdc5"/><ellipse cx="1074.7" cy="527.9" rx="3.4" ry="6.5" fill="#43413c"/><ellipse cx="1084.7" cy="530.2" rx="3.4" ry="6.5" fill="#cfcdc5"/><ellipse cx="1086.6" cy="529.2" rx="3.4" ry="6.5" fill="#44413c"/><ellipse cx="1096.8" cy="531.5" rx="3.5" ry="6.6" fill="#cfcdc5"/><ellipse cx="1098.7" cy="530.5" rx="3.5" ry="6.6" fill="#44413c"/><ellipse cx="1109.1" cy="532.9" rx="3.5" ry="6.6" fill="#cfcdc5"/><ellipse cx="1111.0" cy="531.9" rx="3.5" ry="6.6" fill="#44413c"/><ellipse cx="1121.7" cy="534.3" rx="3.6" ry="6.7" fill="#cfcdc5"/><ellipse cx="1123.6" cy="533.3" rx="3.6" ry="6.7" fill="#44413c"/><ellipse cx="1134.5" cy="535.7" rx="3.7" ry="6.7" fill="#cfcdc5"/><ellipse cx="1136.4" cy="534.7" rx="3.7" ry="6.7" fill="#44423c"/><ellipse cx="1147.5" cy="537.2" rx="3.7" ry="6.8" fill="#cfcdc5"/><ellipse cx="1149.4" cy="536.2" rx="3.7" ry="6.8" fill="#44423c"/><ellipse cx="1160.7" cy="538.7" rx="3.8" ry="6.9" fill="#cfcdc5"/><ellipse cx="1162.6" cy="537.7" rx="3.8" ry="6.9" fill="#44423c"/><ellipse cx="1174.2" cy="540.2" rx="3.9" ry="6.9" fill="#cfcdc5"/><ellipse cx="1176.1" cy="539.2" rx="3.9" ry="6.9" fill="#44423c"/><ellipse cx="1188.0" cy="541.7" rx="4.0" ry="7.0" fill="#cfcdc5"/><ellipse cx="1189.9" cy="540.7" rx="4.0" ry="7.0" fill="#44423d"/><ellipse cx="1202.1" cy="543.3" rx="4.0" ry="7.1" fill="#cfcdc5"/><ellipse cx="1204.0" cy="542.3" rx="4.0" ry="7.1" fill="#44423d"/><ellipse cx="1216.4" cy="544.8" rx="4.1" ry="7.1" fill="#cfcdc5"/><ellipse cx="1218.3" cy="543.8" rx="4.1" ry="7.1" fill="#44423d"/><ellipse cx="1016.1" cy="540.2" rx="3.1" ry="6.2" fill="#cfcdc5"/><ellipse cx="1018.0" cy="539.2" rx="3.1" ry="6.2" fill="#44423c"/><ellipse cx="1027.0" cy="541.6" rx="3.1" ry="6.2" fill="#cfcdc5"/><ellipse cx="1028.9" cy="540.6" rx="3.1" ry="6.2" fill="#44423d"/><ellipse cx="1038.1" cy="543.0" rx="3.2" ry="6.3" fill="#cfcdc5"/><ellipse cx="1040.0" cy="542.0" rx="3.2" ry="6.3" fill="#44423d"/><ellipse cx="1049.4" cy="544.4" rx="3.2" ry="6.3" fill="#cfcdc5"/><ellipse cx="1051.3" cy="543.4" rx="3.2" ry="6.3" fill="#44423d"/><ellipse cx="1060.8" cy="545.8" rx="3.3" ry="6.4" fill="#cfcdc5"/><ellipse cx="1062.7" cy="544.8" rx="3.3" ry="6.4" fill="#44423d"/><ellipse cx="1072.5" cy="547.3" rx="3.3" ry="6.4" fill="#cfcdc5"/><ellipse cx="1074.4" cy="546.3" rx="3.3" ry="6.4" fill="#45423d"/><ellipse cx="1084.4" cy="548.8" rx="3.4" ry="6.5" fill="#cfcdc5"/><ellipse cx="1086.3" cy="547.8" rx="3.4" ry="6.5" fill="#45423d"/><ellipse cx="1096.4" cy="550.3" rx="3.5" ry="6.5" fill="#cfcdc5"/><ellipse cx="1098.3" cy="549.3" rx="3.5" ry="6.5" fill="#45423d"/><ellipse cx="1108.7" cy="551.8" rx="3.5" ry="6.6" fill="#cfcdc5"/><ellipse cx="1110.6" cy="550.8" rx="3.5" ry="6.6" fill="#45423d"/><ellipse cx="1121.2" cy="553.4" rx="3.6" ry="6.7" fill="#cfcdc5"/><ellipse cx="1123.1" cy="552.4" rx="3.6" ry="6.7" fill="#45423d"/><ellipse cx="1134.0" cy="555.0" rx="3.7" ry="6.7" fill="#cfcdc5"/><ellipse cx="1135.9" cy="554.0" rx="3.7" ry="6.7" fill="#45433d"/><ellipse cx="1147.0" cy="556.6" rx="3.7" ry="6.8" fill="#cfcdc5"/><ellipse cx="1148.9" cy="555.6" rx="3.7" ry="6.8" fill="#45433d"/><ellipse cx="1160.2" cy="558.3" rx="3.8" ry="6.8" fill="#cfcdc5"/><ellipse cx="1162.1" cy="557.3" rx="3.8" ry="6.8" fill="#45433d"/><ellipse cx="1173.7" cy="560.0" rx="3.9" ry="6.9" fill="#cfcdc5"/><ellipse cx="1175.6" cy="559.0" rx="3.9" ry="6.9" fill="#45433d"/><ellipse cx="1187.4" cy="561.7" rx="3.9" ry="7.0" fill="#cfcdc5"/><ellipse cx="1189.3" cy="560.7" rx="3.9" ry="7.0" fill="#45433e"/><ellipse cx="1201.4" cy="563.4" rx="4.0" ry="7.0" fill="#cfcdc5"/><ellipse cx="1203.3" cy="562.4" rx="4.0" ry="7.0" fill="#45433e"/><ellipse cx="1215.7" cy="565.2" rx="4.1" ry="7.1" fill="#cfcdc5"/><ellipse cx="1217.6" cy="564.2" rx="4.1" ry="7.1" fill="#46433e"/><ellipse cx="1016.0" cy="557.8" rx="3.1" ry="6.1" fill="#cfcdc5"/><ellipse cx="1017.9" cy="556.8" rx="3.1" ry="6.1" fill="#45433d"/><ellipse cx="1026.8" cy="559.3" rx="3.1" ry="6.2" fill="#cfcdc5"/><ellipse cx="1028.7" cy="558.3" rx="3.1" ry="6.2" fill="#45433d"/><ellipse cx="1037.9" cy="560.9" rx="3.2" ry="6.2" fill="#cfcdc5"/><ellipse cx="1039.8" cy="559.9" rx="3.2" ry="6.2" fill="#45433d"/><ellipse cx="1049.1" cy="562.4" rx="3.2" ry="6.3" fill="#cfcdc5"/><ellipse cx="1051.0" cy="561.4" rx="3.2" ry="6.3" fill="#45433e"/><ellipse cx="1060.6" cy="564.0" rx="3.3" ry="6.3" fill="#cfcdc5"/><ellipse cx="1062.5" cy="563.0" rx="3.3" ry="6.3" fill="#45433e"/><ellipse cx="1072.2" cy="565.6" rx="3.3" ry="6.4" fill="#cfcdc5"/><ellipse cx="1074.1" cy="564.6" rx="3.3" ry="6.4" fill="#46433e"/><ellipse cx="1084.0" cy="567.3" rx="3.4" ry="6.4" fill="#cfcdc5"/><ellipse cx="1085.9" cy="566.3" rx="3.4" ry="6.4" fill="#46433e"/><ellipse cx="1096.1" cy="569.0" rx="3.5" ry="6.5" fill="#cfcdc5"/><ellipse cx="1098.0" cy="568.0" rx="3.5" ry="6.5" fill="#46433e"/><ellipse cx="1108.3" cy="570.7" rx="3.5" ry="6.6" fill="#cfcdc5"/><ellipse cx="1110.2" cy="569.7" rx="3.5" ry="6.6" fill="#46433e"/><ellipse cx="1120.8" cy="572.4" rx="3.6" ry="6.6" fill="#cfcdc5"/><ellipse cx="1122.7" cy="571.4" rx="3.6" ry="6.6" fill="#46443e"/><ellipse cx="1133.5" cy="574.2" rx="3.7" ry="6.7" fill="#cfcdc5"/><ellipse cx="1135.4" cy="573.2" rx="3.7" ry="6.7" fill="#46443e"/><ellipse cx="1146.5" cy="576.0" rx="3.7" ry="6.7" fill="#cfcdc5"/><ellipse cx="1148.4" cy="575.0" rx="3.7" ry="6.7" fill="#46443e"/><ellipse cx="1159.7" cy="577.8" rx="3.8" ry="6.8" fill="#cfcdc5"/><ellipse cx="1161.6" cy="576.8" rx="3.8" ry="6.8" fill="#46443e"/><ellipse cx="1173.1" cy="579.6" rx="3.9" ry="6.9" fill="#cfcdc5"/><ellipse cx="1175.0" cy="578.6" rx="3.9" ry="6.9" fill="#46443e"/><ellipse cx="1186.8" cy="581.5" rx="3.9" ry="6.9" fill="#cfcdc5"/><ellipse cx="1188.7" cy="580.5" rx="3.9" ry="6.9" fill="#46443f"/><ellipse cx="1200.7" cy="583.5" rx="4.0" ry="7.0" fill="#cfcdc5"/><ellipse cx="1202.6" cy="582.5" rx="4.0" ry="7.0" fill="#47443f"/><ellipse cx="1215.0" cy="585.5" rx="4.1" ry="7.1" fill="#cfcdc5"/><ellipse cx="1216.9" cy="584.5" rx="4.1" ry="7.1" fill="#47443f"/><ellipse cx="1015.8" cy="575.4" rx="3.1" ry="6.1" fill="#cfcdc5"/><ellipse cx="1017.7" cy="574.4" rx="3.1" ry="6.1" fill="#46443e"/><ellipse cx="1026.7" cy="577.0" rx="3.1" ry="6.2" fill="#cfcdc5"/><ellipse cx="1028.6" cy="576.0" rx="3.1" ry="6.2" fill="#46443e"/><ellipse cx="1037.7" cy="578.7" rx="3.2" ry="6.2" fill="#cfcdc5"/><ellipse cx="1039.6" cy="577.7" rx="3.2" ry="6.2" fill="#46443e"/><ellipse cx="1048.9" cy="580.4" rx="3.2" ry="6.3" fill="#cfcdc5"/><ellipse cx="1050.8" cy="579.4" rx="3.2" ry="6.3" fill="#46443e"/><ellipse cx="1060.3" cy="582.1" rx="3.3" ry="6.3" fill="#cfcdc5"/><ellipse cx="1062.2" cy="581.1" rx="3.3" ry="6.3" fill="#46443f"/><ellipse cx="1071.9" cy="583.9" rx="3.3" ry="6.4" fill="#cfcdc5"/><ellipse cx="1073.8" cy="582.9" rx="3.3" ry="6.4" fill="#47443f"/><ellipse cx="1083.7" cy="585.7" rx="3.4" ry="6.4" fill="#cfcdc5"/><ellipse cx="1085.6" cy="584.7" rx="3.4" ry="6.4" fill="#47443f"/><ellipse cx="1095.7" cy="587.5" rx="3.5" ry="6.5" fill="#cfcdc5"/><ellipse cx="1097.6" cy="586.5" rx="3.5" ry="6.5" fill="#47443f"/><ellipse cx="1107.9" cy="589.4" rx="3.5" ry="6.5" fill="#cfcdc5"/><ellipse cx="1109.8" cy="588.4" rx="3.5" ry="6.5" fill="#47443f"/><ellipse cx="1120.4" cy="591.3" rx="3.6" ry="6.6" fill="#cfcdc5"/><ellipse cx="1122.3" cy="590.3" rx="3.6" ry="6.6" fill="#47453f"/><ellipse cx="1133.1" cy="593.2" rx="3.7" ry="6.6" fill="#cfcdc5"/><ellipse cx="1135.0" cy="592.2" rx="3.7" ry="6.6" fill="#47453f"/><ellipse cx="1146.0" cy="595.2" rx="3.7" ry="6.7" fill="#cfcdc5"/><ellipse cx="1147.9" cy="594.2" rx="3.7" ry="6.7" fill="#47453f"/><ellipse cx="1159.1" cy="597.2" rx="3.8" ry="6.8" fill="#cfcdc5"/><ellipse cx="1161.0" cy="596.2" rx="3.8" ry="6.8" fill="#47453f"/><ellipse cx="1172.5" cy="599.2" rx="3.9" ry="6.8" fill="#cfcdc5"/><ellipse cx="1174.4" cy="598.2" rx="3.9" ry="6.8" fill="#47453f"/><ellipse cx="1186.2" cy="601.3" rx="3.9" ry="6.9" fill="#cfcdc5"/><ellipse cx="1188.1" cy="600.3" rx="3.9" ry="6.9" fill="#484540"/><ellipse cx="1200.1" cy="603.4" rx="4.0" ry="7.0" fill="#cfcdc5"/><ellipse cx="1202.0" cy="602.4" rx="4.0" ry="7.0" fill="#484540"/><ellipse cx="1214.3" cy="605.6" rx="4.1" ry="7.0" fill="#cfcdc5"/><ellipse cx="1216.2" cy="604.6" rx="4.1" ry="7.0" fill="#484540"/><ellipse cx="1015.7" cy="592.8" rx="3.1" ry="6.1" fill="#cfcdc5"/><ellipse cx="1017.6" cy="591.8" rx="3.1" ry="6.1" fill="#47453f"/><ellipse cx="1026.5" cy="594.6" rx="3.1" ry="6.1" fill="#cfcdc5"/><ellipse cx="1028.4" cy="593.6" rx="3.1" ry="6.1" fill="#47453f"/><ellipse cx="1037.5" cy="596.4" rx="3.2" ry="6.2" fill="#cfcdc5"/><ellipse cx="1039.4" cy="595.4" rx="3.2" ry="6.2" fill="#47453f"/><ellipse cx="1048.7" cy="598.3" rx="3.2" ry="6.2" fill="#cfcdc5"/><ellipse cx="1050.6" cy="597.3" rx="3.2" ry="6.2" fill="#47453f"/><ellipse cx="1060.0" cy="600.2" rx="3.3" ry="6.3" fill="#cfcdc5"/><ellipse cx="1061.9" cy="599.2" rx="3.3" ry="6.3" fill="#48453f"/><ellipse cx="1071.6" cy="602.1" rx="3.3" ry="6.3" fill="#cfcdc5"/><ellipse cx="1073.5" cy="601.1" rx="3.3" ry="6.3" fill="#484540"/><ellipse cx="1083.4" cy="604.0" rx="3.4" ry="6.4" fill="#cfcdc5"/><ellipse cx="1085.3" cy="603.0" rx="3.4" ry="6.4" fill="#484540"/><ellipse cx="1095.4" cy="606.0" rx="3.5" ry="6.4" fill="#cfcdc5"/><ellipse cx="1097.3" cy="605.0" rx="3.5" ry="6.4" fill="#484540"/><ellipse cx="1107.6" cy="608.0" rx="3.5" ry="6.5" fill="#cfcdc5"/><ellipse cx="1109.5" cy="607.0" rx="3.5" ry="6.5" fill="#484540"/><ellipse cx="1120.0" cy="610.1" rx="3.6" ry="6.6" fill="#cfcdc5"/><ellipse cx="1121.9" cy="609.1" rx="3.6" ry="6.6" fill="#484640"/><ellipse cx="1132.6" cy="612.2" rx="3.7" ry="6.6" fill="#cfcdc5"/><ellipse cx="1134.5" cy="611.2" rx="3.7" ry="6.6" fill="#484640"/><ellipse cx="1145.5" cy="614.3" rx="3.7" ry="6.7" fill="#cfcdc5"/><ellipse cx="1147.4" cy="613.3" rx="3.7" ry="6.7" fill="#484640"/><ellipse cx="1158.6" cy="616.5" rx="3.8" ry="6.7" fill="#cfcdc5"/><ellipse cx="1160.5" cy="615.5" rx="3.8" ry="6.7" fill="#484640"/><ellipse cx="1172.0" cy="618.7" rx="3.9" ry="6.8" fill="#cfcdc5"/><ellipse cx="1173.9" cy="617.7" rx="3.9" ry="6.8" fill="#494640"/><ellipse cx="1185.6" cy="621.0" rx="3.9" ry="6.9" fill="#cfcdc5"/><ellipse cx="1187.5" cy="620.0" rx="3.9" ry="6.9" fill="#494640"/><ellipse cx="1199.4" cy="623.3" rx="4.0" ry="6.9" fill="#cfcdc5"/><ellipse cx="1201.3" cy="622.3" rx="4.0" ry="6.9" fill="#494641"/><ellipse cx="1213.6" cy="625.6" rx="4.1" ry="7.0" fill="#cfcdc5"/><ellipse cx="1215.5" cy="624.6" rx="4.1" ry="7.0" fill="#494641"/><ellipse cx="1015.5" cy="610.2" rx="3.1" ry="6.0" fill="#cfcdc5"/><ellipse cx="1017.4" cy="609.2" rx="3.1" ry="6.0" fill="#484640"/><ellipse cx="1026.3" cy="612.1" rx="3.1" ry="6.1" fill="#cfcdc5"/><ellipse cx="1028.2" cy="611.1" rx="3.1" ry="6.1" fill="#484640"/><ellipse cx="1037.3" cy="614.1" rx="3.2" ry="6.1" fill="#cfcdc5"/><ellipse cx="1039.2" cy="613.1" rx="3.2" ry="6.1" fill="#484640"/><ellipse cx="1048.4" cy="616.1" rx="3.2" ry="6.2" fill="#cfcdc5"/><ellipse cx="1050.3" cy="615.1" rx="3.2" ry="6.2" fill="#484640"/><ellipse cx="1059.8" cy="618.1" rx="3.3" ry="6.3" fill="#cfcdc5"/><ellipse cx="1061.7" cy="617.1" rx="3.3" ry="6.3" fill="#494640"/><ellipse cx="1071.3" cy="620.2" rx="3.3" ry="6.3" fill="#cfcdc5"/><ellipse cx="1073.2" cy="619.2" rx="3.3" ry="6.3" fill="#494640"/><ellipse cx="1083.1" cy="622.3" rx="3.4" ry="6.4" fill="#cfcdc5"/><ellipse cx="1085.0" cy="621.3" rx="3.4" ry="6.4" fill="#494641"/><ellipse cx="1095.0" cy="624.4" rx="3.5" ry="6.4" fill="#cfcdc5"/><ellipse cx="1096.9" cy="623.4" rx="3.5" ry="6.4" fill="#494641"/><ellipse cx="1107.2" cy="626.6" rx="3.5" ry="6.5" fill="#cfcdc5"/><ellipse cx="1109.1" cy="625.6" rx="3.5" ry="6.5" fill="#494641"/><ellipse cx="1119.6" cy="628.8" rx="3.6" ry="6.5" fill="#cfcdc5"/><ellipse cx="1121.5" cy="627.8" rx="3.6" ry="6.5" fill="#494741"/><ellipse cx="1132.2" cy="631.1" rx="3.7" ry="6.6" fill="#cfcdc5"/><ellipse cx="1134.1" cy="630.1" rx="3.7" ry="6.6" fill="#494741"/><ellipse cx="1145.0" cy="633.4" rx="3.7" ry="6.6" fill="#cfcdc5"/><ellipse cx="1146.9" cy="632.4" rx="3.7" ry="6.6" fill="#494741"/><ellipse cx="1158.1" cy="635.7" rx="3.8" ry="6.7" fill="#cfcdc5"/><ellipse cx="1160.0" cy="634.7" rx="3.8" ry="6.7" fill="#4a4741"/><ellipse cx="1171.4" cy="638.1" rx="3.9" ry="6.8" fill="#cfcdc5"/><ellipse cx="1173.3" cy="637.1" rx="3.9" ry="6.8" fill="#4a4741"/><ellipse cx="1185.0" cy="640.6" rx="3.9" ry="6.8" fill="#cfcdc5"/><ellipse cx="1186.9" cy="639.6" rx="3.9" ry="6.8" fill="#4a4741"/><ellipse cx="1198.8" cy="643.1" rx="4.0" ry="6.9" fill="#cfcdc5"/><ellipse cx="1200.7" cy="642.1" rx="4.0" ry="6.9" fill="#4a4742"/><ellipse cx="1212.9" cy="645.6" rx="4.1" ry="6.9" fill="#cfcdc5"/><ellipse cx="1214.8" cy="644.6" rx="4.1" ry="6.9" fill="#4a4742"/><ellipse cx="1015.4" cy="627.4" rx="3.1" ry="6.0" fill="#cfcdc5"/><ellipse cx="1017.3" cy="626.4" rx="3.1" ry="6.0" fill="#494641"/><ellipse cx="1026.1" cy="629.5" rx="3.1" ry="6.1" fill="#cfcdc5"/><ellipse cx="1028.0" cy="628.5" rx="3.1" ry="6.1" fill="#494741"/><ellipse cx="1037.1" cy="631.6" rx="3.2" ry="6.1" fill="#cfcdc5"/><ellipse cx="1039.0" cy="630.6" rx="3.2" ry="6.1" fill="#494741"/><ellipse cx="1048.2" cy="633.8" rx="3.2" ry="6.2" fill="#cfcdc5"/><ellipse cx="1050.1" cy="632.8" rx="3.2" ry="6.2" fill="#494741"/><ellipse cx="1059.5" cy="636.0" rx="3.3" ry="6.2" fill="#cfcdc5"/><ellipse cx="1061.4" cy="635.0" rx="3.3" ry="6.2" fill="#4a4741"/><ellipse cx="1071.0" cy="638.2" rx="3.3" ry="6.3" fill="#cfcdc5"/><ellipse cx="1072.9" cy="637.2" rx="3.3" ry="6.3" fill="#4a4741"/><ellipse cx="1082.7" cy="640.4" rx="3.4" ry="6.3" fill="#cfcdc5"/><ellipse cx="1084.6" cy="639.4" rx="3.4" ry="6.3" fill="#4a4741"/><ellipse cx="1094.7" cy="642.7" rx="3.5" ry="6.4" fill="#cfcdc5"/><ellipse cx="1096.6" cy="641.7" rx="3.5" ry="6.4" fill="#4a4742"/><ellipse cx="1106.8" cy="645.1" rx="3.5" ry="6.4" fill="#cfcdc5"/><ellipse cx="1108.7" cy="644.1" rx="3.5" ry="6.4" fill="#4a4742"/><ellipse cx="1119.1" cy="647.5" rx="3.6" ry="6.5" fill="#cfcdc5"/><ellipse cx="1121.0" cy="646.5" rx="3.6" ry="6.5" fill="#4a4842"/><ellipse cx="1131.7" cy="649.9" rx="3.7" ry="6.5" fill="#cfcdc5"/><ellipse cx="1133.6" cy="648.9" rx="3.7" ry="6.5" fill="#4a4842"/><ellipse cx="1144.5" cy="652.4" rx="3.7" ry="6.6" fill="#cfcdc5"/><ellipse cx="1146.4" cy="651.4" rx="3.7" ry="6.6" fill="#4b4842"/><ellipse cx="1157.6" cy="654.9" rx="3.8" ry="6.7" fill="#cfcdc5"/><ellipse cx="1159.5" cy="653.9" rx="3.8" ry="6.7" fill="#4b4842"/><ellipse cx="1170.8" cy="657.4" rx="3.9" ry="6.7" fill="#cfcdc5"/><ellipse cx="1172.7" cy="656.4" rx="3.9" ry="6.7" fill="#4b4842"/><ellipse cx="1184.4" cy="660.0" rx="3.9" ry="6.8" fill="#cfcdc5"/><ellipse cx="1186.3" cy="659.0" rx="3.9" ry="6.8" fill="#4b4842"/><ellipse cx="1198.1" cy="662.7" rx="4.0" ry="6.8" fill="#cfcdc5"/><ellipse cx="1200.0" cy="661.7" rx="4.0" ry="6.8" fill="#4b4843"/><ellipse cx="1212.2" cy="665.4" rx="4.1" ry="6.9" fill="#cfcdc5"/><ellipse cx="1214.1" cy="664.4" rx="4.1" ry="6.9" fill="#4b4843"/><ellipse cx="1015.2" cy="644.6" rx="3.1" ry="6.0" fill="#cfcdc5"/><ellipse cx="1017.1" cy="643.6" rx="3.1" ry="6.0" fill="#4a4742"/><ellipse cx="1025.9" cy="646.9" rx="3.1" ry="6.0" fill="#cfcdc5"/><ellipse cx="1027.8" cy="645.9" rx="3.1" ry="6.0" fill="#4a4742"/><ellipse cx="1036.9" cy="649.1" rx="3.2" ry="6.1" fill="#cfcdc5"/><ellipse cx="1038.8" cy="648.1" rx="3.2" ry="6.1" fill="#4a4842"/><ellipse cx="1048.0" cy="651.4" rx="3.2" ry="6.1" fill="#cfcdc5"/><ellipse cx="1049.9" cy="650.4" rx="3.2" ry="6.1" fill="#4a4842"/><ellipse cx="1059.3" cy="653.7" rx="3.3" ry="6.2" fill="#cfcdc5"/><ellipse cx="1061.2" cy="652.7" rx="3.3" ry="6.2" fill="#4b4842"/><ellipse cx="1070.7" cy="656.1" rx="3.3" ry="6.2" fill="#cfcdc5"/><ellipse cx="1072.6" cy="655.1" rx="3.3" ry="6.2" fill="#4b4842"/><ellipse cx="1082.4" cy="658.5" rx="3.4" ry="6.3" fill="#cfcdc5"/><ellipse cx="1084.3" cy="657.5" rx="3.4" ry="6.3" fill="#4b4842"/><ellipse cx="1094.3" cy="661.0" rx="3.5" ry="6.4" fill="#cfcdc5"/><ellipse cx="1096.2" cy="660.0" rx="3.5" ry="6.4" fill="#4b4842"/><ellipse cx="1106.4" cy="663.5" rx="3.5" ry="6.4" fill="#cfcdc5"/><ellipse cx="1108.3" cy="662.5" rx="3.5" ry="6.4" fill="#4b4843"/><ellipse cx="1118.7" cy="666.0" rx="3.6" ry="6.5" fill="#cfcdc5"/><ellipse cx="1120.6" cy="665.0" rx="3.6" ry="6.5" fill="#4b4943"/><ellipse cx="1131.3" cy="668.6" rx="3.6" ry="6.5" fill="#cfcdc5"/><ellipse cx="1133.2" cy="667.6" rx="3.6" ry="6.5" fill="#4b4943"/><ellipse cx="1144.0" cy="671.2" rx="3.7" ry="6.6" fill="#cfcdc5"/><ellipse cx="1145.9" cy="670.2" rx="3.7" ry="6.6" fill="#4c4943"/><ellipse cx="1157.0" cy="673.9" rx="3.8" ry="6.6" fill="#cfcdc5"/><ellipse cx="1158.9" cy="672.9" rx="3.8" ry="6.6" fill="#4c4943"/><ellipse cx="1170.3" cy="676.6" rx="3.9" ry="6.7" fill="#cfcdc5"/><ellipse cx="1172.2" cy="675.6" rx="3.9" ry="6.7" fill="#4c4943"/><ellipse cx="1183.8" cy="679.4" rx="3.9" ry="6.8" fill="#cfcdc5"/><ellipse cx="1185.7" cy="678.4" rx="3.9" ry="6.8" fill="#4c4943"/><ellipse cx="1197.5" cy="682.3" rx="4.0" ry="6.8" fill="#cfcdc5"/><ellipse cx="1199.4" cy="681.3" rx="4.0" ry="6.8" fill="#4c4944"/><ellipse cx="1211.5" cy="685.1" rx="4.1" ry="6.9" fill="#cfcdc5"/><ellipse cx="1213.4" cy="684.1" rx="4.1" ry="6.9" fill="#4c4a44"/><ellipse cx="1015.1" cy="661.8" rx="3.1" ry="6.0" fill="#cfcdc5"/><ellipse cx="1017.0" cy="660.8" rx="3.1" ry="6.0" fill="#4b4843"/><ellipse cx="1025.8" cy="664.1" rx="3.1" ry="6.0" fill="#cfcdc5"/><ellipse cx="1027.7" cy="663.1" rx="3.1" ry="6.0" fill="#4b4843"/><ellipse cx="1036.7" cy="666.5" rx="3.2" ry="6.1" fill="#cfcdc5"/><ellipse cx="1038.6" cy="665.5" rx="3.2" ry="6.1" fill="#4b4943"/><ellipse cx="1047.7" cy="669.0" rx="3.2" ry="6.1" fill="#cfcdc5"/><ellipse cx="1049.6" cy="668.0" rx="3.2" ry="6.1" fill="#4b4943"/><ellipse cx="1059.0" cy="671.4" rx="3.3" ry="6.2" fill="#cfcdc5"/><ellipse cx="1060.9" cy="670.4" rx="3.3" ry="6.2" fill="#4c4943"/><ellipse cx="1070.5" cy="673.9" rx="3.3" ry="6.2" fill="#cfcdc5"/><ellipse cx="1072.4" cy="672.9" rx="3.3" ry="6.2" fill="#4c4943"/><ellipse cx="1082.1" cy="676.5" rx="3.4" ry="6.3" fill="#cfcdc5"/><ellipse cx="1084.0" cy="675.5" rx="3.4" ry="6.3" fill="#4c4943"/><ellipse cx="1094.0" cy="679.1" rx="3.5" ry="6.3" fill="#cfcdc5"/><ellipse cx="1095.9" cy="678.1" rx="3.5" ry="6.3" fill="#4c4943"/><ellipse cx="1106.0" cy="681.8" rx="3.5" ry="6.4" fill="#cfcdc5"/><ellipse cx="1107.9" cy="680.8" rx="3.5" ry="6.4" fill="#4c4944"/><ellipse cx="1118.3" cy="684.5" rx="3.6" ry="6.4" fill="#cfcdc5"/><ellipse cx="1120.2" cy="683.5" rx="3.6" ry="6.4" fill="#4c4a44"/><ellipse cx="1130.8" cy="687.2" rx="3.6" ry="6.5" fill="#cfcdc5"/><ellipse cx="1132.7" cy="686.2" rx="3.6" ry="6.5" fill="#4c4a44"/><ellipse cx="1143.6" cy="690.0" rx="3.7" ry="6.5" fill="#cfcdc5"/><ellipse cx="1145.5" cy="689.0" rx="3.7" ry="6.5" fill="#4d4a44"/><ellipse cx="1156.5" cy="692.8" rx="3.8" ry="6.6" fill="#cfcdc5"/><ellipse cx="1158.4" cy="691.8" rx="3.8" ry="6.6" fill="#4d4a44"/><ellipse cx="1169.7" cy="695.7" rx="3.9" ry="6.7" fill="#cfcdc5"/><ellipse cx="1171.6" cy="694.7" rx="3.9" ry="6.7" fill="#4d4a44"/><ellipse cx="1183.2" cy="698.7" rx="3.9" ry="6.7" fill="#cfcdc5"/><ellipse cx="1185.1" cy="697.7" rx="3.9" ry="6.7" fill="#4d4a44"/><ellipse cx="1196.9" cy="701.7" rx="4.0" ry="6.8" fill="#cfcdc5"/><ellipse cx="1198.8" cy="700.7" rx="4.0" ry="6.8" fill="#4d4a45"/><ellipse cx="1210.8" cy="704.8" rx="4.1" ry="6.8" fill="#cfcdc5"/><ellipse cx="1212.7" cy="703.8" rx="4.1" ry="6.8" fill="#4e4b45"/><ellipse cx="1014.9" cy="678.8" rx="3.1" ry="5.9" fill="#cfcdc5"/><ellipse cx="1016.8" cy="677.8" rx="3.1" ry="5.9" fill="#4c4943"/><ellipse cx="1025.6" cy="681.3" rx="3.1" ry="6.0" fill="#cfcdc5"/><ellipse cx="1027.5" cy="680.3" rx="3.1" ry="6.0" fill="#4c4944"/><ellipse cx="1036.5" cy="683.8" rx="3.2" ry="6.0" fill="#cfcdc5"/><ellipse cx="1038.4" cy="682.8" rx="3.2" ry="6.0" fill="#4c4944"/><ellipse cx="1047.5" cy="686.4" rx="3.2" ry="6.1" fill="#cfcdc5"/><ellipse cx="1049.4" cy="685.4" rx="3.2" ry="6.1" fill="#4c4a44"/><ellipse cx="1058.7" cy="689.0" rx="3.3" ry="6.1" fill="#cfcdc5"/><ellipse cx="1060.6" cy="688.0" rx="3.3" ry="6.1" fill="#4d4a44"/><ellipse cx="1070.2" cy="691.7" rx="3.3" ry="6.2" fill="#cfcdc5"/><ellipse cx="1072.1" cy="690.7" rx="3.3" ry="6.2" fill="#4d4a44"/><ellipse cx="1081.8" cy="694.4" rx="3.4" ry="6.2" fill="#cfcdc5"/><ellipse cx="1083.7" cy="693.4" rx="3.4" ry="6.2" fill="#4d4a44"/><ellipse cx="1093.6" cy="697.2" rx="3.5" ry="6.3" fill="#cfcdc5"/><ellipse cx="1095.5" cy="696.2" rx="3.5" ry="6.3" fill="#4d4a44"/><ellipse cx="1105.7" cy="700.0" rx="3.5" ry="6.3" fill="#cfcdc5"/><ellipse cx="1107.6" cy="699.0" rx="3.5" ry="6.3" fill="#4d4a44"/><ellipse cx="1117.9" cy="702.8" rx="3.6" ry="6.4" fill="#cfcdc5"/><ellipse cx="1119.8" cy="701.8" rx="3.6" ry="6.4" fill="#4d4a45"/><ellipse cx="1130.4" cy="705.7" rx="3.7" ry="6.5" fill="#cfcdc5"/><ellipse cx="1132.3" cy="704.7" rx="3.7" ry="6.5" fill="#4e4b45"/><ellipse cx="1143.1" cy="708.7" rx="3.7" ry="6.5" fill="#cfcdc5"/><ellipse cx="1145.0" cy="707.7" rx="3.7" ry="6.5" fill="#4e4b45"/><ellipse cx="1156.0" cy="711.7" rx="3.8" ry="6.6" fill="#cfcdc5"/><ellipse cx="1157.9" cy="710.7" rx="3.8" ry="6.6" fill="#4e4b45"/><ellipse cx="1169.2" cy="714.8" rx="3.9" ry="6.6" fill="#cfcdc5"/><ellipse cx="1171.1" cy="713.8" rx="3.9" ry="6.6" fill="#4e4b45"/><ellipse cx="1182.6" cy="717.9" rx="3.9" ry="6.7" fill="#cfcdc5"/><ellipse cx="1184.5" cy="716.9" rx="3.9" ry="6.7" fill="#4e4b45"/><ellipse cx="1196.2" cy="721.1" rx="4.0" ry="6.7" fill="#cfcdc5"/><ellipse cx="1198.1" cy="720.1" rx="4.0" ry="6.7" fill="#4e4b46"/><ellipse cx="1210.2" cy="724.3" rx="4.1" ry="6.8" fill="#cfcdc5"/><ellipse cx="1212.1" cy="723.3" rx="4.1" ry="6.8" fill="#4f4c46"/></g>
<line x1="1237.0" y1="217.0" x2="1216.0" y2="738.0" stroke="#d8d6cf" stroke-width="1" />
<polygon points="1192.0,618.0 1220.5,614.0 1216.5,745.0 1192.0,738.0" fill="#a09d94" stroke="#a09d94" stroke-width="0.9" stroke-linejoin="round" />
<ellipse cx="1195.1" cy="629.0" rx="3.6" ry="6.8" fill="#d6d4cc"/><ellipse cx="1197.0" cy="628.0" rx="3.6" ry="6.8" fill="#55524b"/><ellipse cx="1209.6" cy="630.0" rx="3.6" ry="6.8" fill="#d6d4cc"/><ellipse cx="1211.5" cy="629.0" rx="3.6" ry="6.8" fill="#55524b"/><ellipse cx="1194.7" cy="651.0" rx="3.6" ry="6.8" fill="#d6d4cc"/><ellipse cx="1196.6" cy="650.0" rx="3.6" ry="6.8" fill="#55524b"/><ellipse cx="1209.5" cy="652.6" rx="3.6" ry="6.8" fill="#d6d4cc"/><ellipse cx="1211.4" cy="651.6" rx="3.6" ry="6.8" fill="#55524b"/><ellipse cx="1194.7" cy="672.0" rx="3.6" ry="6.8" fill="#d6d4cc"/><ellipse cx="1196.6" cy="671.0" rx="3.6" ry="6.8" fill="#55524b"/><ellipse cx="1209.5" cy="674.4" rx="3.6" ry="6.8" fill="#d6d4cc"/><ellipse cx="1211.4" cy="673.4" rx="3.6" ry="6.8" fill="#55524b"/><ellipse cx="1194.4" cy="692.0" rx="3.6" ry="6.8" fill="#d6d4cc"/><ellipse cx="1196.3" cy="691.0" rx="3.6" ry="6.8" fill="#55524b"/><ellipse cx="1209.1" cy="693.8" rx="3.6" ry="6.8" fill="#d6d4cc"/><ellipse cx="1211.0" cy="692.8" rx="3.6" ry="6.8" fill="#55524b"/><ellipse cx="1194.1" cy="711.5" rx="3.6" ry="6.8" fill="#d6d4cc"/><ellipse cx="1196.0" cy="710.5" rx="3.6" ry="6.8" fill="#55524b"/><ellipse cx="1208.8" cy="713.2" rx="3.6" ry="6.8" fill="#d6d4cc"/><ellipse cx="1210.7" cy="712.2" rx="3.6" ry="6.8" fill="#55524b"/><ellipse cx="1208.5" cy="733.4" rx="3.6" ry="6.8" fill="#d6d4cc"/><ellipse cx="1210.4" cy="732.4" rx="3.6" ry="6.8" fill="#55524b"/>
<line x1="1192.0" y1="618.0" x2="1192.0" y2="738.0" stroke="#6e6b64" stroke-width="1" />
<circle cx="1198.8" cy="591" r="9.5" fill="#b47c5a"/><circle cx="1197.3" cy="591" r="7" fill="#0c0b14"/>
<polygon points="850.0,250.6 985.0,236.5 985.0,700.0 850.0,700.0" fill="url(#gIns)" stroke="url(#gIns)" stroke-width="0.9" stroke-linejoin="round" />
<line x1="850.0" y1="250.6" x2="985.0" y2="236.5" stroke="#3f3520" stroke-width="1.5" />
<polygon points="985.0,236.5 1013.0,233.0 1013.0,325.6 985.0,325.6" fill="#cdbf7c" stroke="#cdbf7c" stroke-width="0.9" stroke-linejoin="round" />
<polygon points="1007.0,325.0 1014.0,325.0 1014.0,680.0 1007.0,680.0" fill="#5e584a" stroke="#5e584a" stroke-width="0.9" stroke-linejoin="round" />
<polygon points="843.0,250.0 850.0,250.6 850.0,320.0 843.0,310.0" fill="#8a8987" stroke="#8a8987" stroke-width="0.9" stroke-linejoin="round" />
<line x1="843.0" y1="250.0" x2="1013.0" y2="232.0" stroke="#2e2a24" stroke-width="1.2" opacity="0.5"/>
<polygon points="974.0,325.6 1011.5,325.6 1011.5,640.0 974.0,640.0" fill="#807e7a" stroke="#807e7a" stroke-width="0.9" stroke-linejoin="round" />
<polygon points="1011.5,325.6 1020.0,325.6 1020.0,640.0 1011.5,640.0" fill="#55534e" stroke="#55534e" stroke-width="0.9" stroke-linejoin="round" />
<line x1="974.0" y1="326.0" x2="974.0" y2="640.0" stroke="#3d3a33" stroke-width="1.3" />
<rect x="991.3" y="440" width="15.4" height="52.6" rx="3.5" fill="#b1a468"/>
<path d="M843,309 C850,318 858,330 870,341.5 C890,359 910,375 929,393 C942,408 948,420 953,436 C960,460 964,490 968,512 C972,535 977,555 981,570" fill="none" stroke="#74673a" stroke-width="12" opacity="0.55" filter="url(#blur2)"/>
<line x1="972.8" y1="326.0" x2="972.8" y2="640.0" stroke="#2a2518" stroke-width="2" />
<path d="M843,309 C850,318 858,330 870,341.5 C890,359 910,375 929,393 C942,408 948,420 953,436 C960,460 964,490 968,512 C972,535 977,555 981,570 C984,580 985,583 985,590 L985,628 L843,588 Z" fill="url(#gBoard)"/>
<clipPath id="cpBoard"><path d="M843,309 C850,318 858,330 870,341.5 C890,359 910,375 929,393 C942,408 948,420 953,436 C960,460 964,490 968,512 C972,535 977,555 981,570 C984,580 985,583 985,590 L985,628 L843,588 Z"/></clipPath>
<g clip-path="url(#cpBoard)"><path d="M843,309 C850,318 858,330 870,341.5 C890,359 910,375 929,393 C942,408 948,420 953,436 C960,460 964,490 968,512 C972,535 977,555 981,570 C984,580 985,583 985,590 L985,628" fill="none" stroke="#8e8c87" stroke-width="16" opacity="0.55" filter="url(#blur4)"/></g>
<path d="M843,309 C850,318 858,330 870,341.5 C890,359 910,375 929,393 C942,408 948,420 953,436 C960,460 964,490 968,512 C972,535 977,555 981,570 C984,580 985,583 985,590 L985,622" fill="none" stroke="#ebe7d4" stroke-width="2.4"/>
<polygon points="985.0,614.0 1011.5,614.0 1011.5,634.0 985.0,628.0" fill="#6c6b67" stroke="#6c6b67" stroke-width="0.9" stroke-linejoin="round" />
<polygon points="1011.5,614.0 1020.0,614.0 1020.0,640.0 1011.5,634.0" fill="#4f4e49" stroke="#4f4e49" stroke-width="0.9" stroke-linejoin="round" />
<polygon points="996.6,629.8 1028.0,638.2 1028.0,661.0 1002.0,661.0" fill="#3f3a28" stroke="#3f3a28" stroke-width="0.9" stroke-linejoin="round" />
<polygon points="379.0,721.0 541.4,862.0 1153.0,749.0 1190.0,764.0 1205.0,770.0 573.0,900.0" fill="#cbcac4" stroke="#cbcac4" stroke-width="0.9" stroke-linejoin="round" />
<g><ellipse cx="544.6" cy="865.8" rx="5.6" ry="2.9" fill="#e3e2dd" transform="rotate(-12 544.6 865.8)"/><circle cx="555.7" cy="868.1" r="1.1" fill="#8d8c88"/><ellipse cx="560.4" cy="862.8" rx="5.6" ry="2.9" fill="#e3e2dd" transform="rotate(-12 560.4 862.8)"/><circle cx="571.6" cy="865.1" r="1.1" fill="#8d8c88"/><ellipse cx="576.2" cy="859.9" rx="5.6" ry="2.9" fill="#e3e2dd" transform="rotate(-12 576.2 859.9)"/><circle cx="587.4" cy="862.1" r="1.1" fill="#8d8c88"/><ellipse cx="592.1" cy="856.9" rx="5.6" ry="2.9" fill="#e3e2dd" transform="rotate(-12 592.1 856.9)"/><circle cx="603.2" cy="859.2" r="1.1" fill="#8d8c88"/><ellipse cx="607.9" cy="854.0" rx="5.6" ry="2.9" fill="#e3e2dd" transform="rotate(-12 607.9 854.0)"/><circle cx="619.1" cy="856.2" r="1.1" fill="#8d8c88"/><ellipse cx="623.8" cy="851.0" rx="5.6" ry="2.9" fill="#e3e2dd" transform="rotate(-12 623.8 851.0)"/><circle cx="634.9" cy="853.2" r="1.1" fill="#8d8c88"/><ellipse cx="639.6" cy="848.1" rx="5.6" ry="2.9" fill="#e3e2dd" transform="rotate(-12 639.6 848.1)"/><circle cx="650.8" cy="850.2" r="1.1" fill="#8d8c88"/><ellipse cx="655.4" cy="845.1" rx="5.6" ry="2.9" fill="#e3e2dd" transform="rotate(-12 655.4 845.1)"/><circle cx="666.6" cy="847.2" r="1.1" fill="#8d8c88"/><ellipse cx="671.3" cy="842.2" rx="5.6" ry="2.9" fill="#e3e2dd" transform="rotate(-12 671.3 842.2)"/><circle cx="682.5" cy="844.2" r="1.1" fill="#8d8c88"/><ellipse cx="687.1" cy="839.2" rx="5.6" ry="2.9" fill="#e3e2dd" transform="rotate(-12 687.1 839.2)"/><circle cx="698.3" cy="841.3" r="1.1" fill="#8d8c88"/><ellipse cx="703.0" cy="836.3" rx="5.6" ry="2.9" fill="#e3e2dd" transform="rotate(-12 703.0 836.3)"/><circle cx="714.1" cy="838.3" r="1.1" fill="#8d8c88"/><ellipse cx="718.8" cy="833.3" rx="5.6" ry="2.9" fill="#e3e2dd" transform="rotate(-12 718.8 833.3)"/><circle cx="730.0" cy="835.3" r="1.1" fill="#8d8c88"/><ellipse cx="734.7" cy="830.4" rx="5.6" ry="2.9" fill="#e3e2dd" transform="rotate(-12 734.7 830.4)"/><circle cx="745.8" cy="832.3" r="1.1" fill="#8d8c88"/><ellipse cx="750.5" cy="827.4" rx="5.6" ry="2.9" fill="#e3e2dd" transform="rotate(-12 750.5 827.4)"/><circle cx="761.7" cy="829.3" r="1.1" fill="#8d8c88"/><ellipse cx="766.3" cy="824.4" rx="5.6" ry="2.9" fill="#e3e2dd" transform="rotate(-12 766.3 824.4)"/><circle cx="777.5" cy="826.3" r="1.1" fill="#8d8c88"/><ellipse cx="782.2" cy="821.5" rx="5.6" ry="2.9" fill="#e3e2dd" transform="rotate(-12 782.2 821.5)"/><circle cx="793.4" cy="823.4" r="1.1" fill="#8d8c88"/><ellipse cx="798.0" cy="818.5" rx="5.6" ry="2.9" fill="#e3e2dd" transform="rotate(-12 798.0 818.5)"/><circle cx="809.2" cy="820.4" r="1.1" fill="#8d8c88"/><ellipse cx="813.9" cy="815.6" rx="5.6" ry="2.9" fill="#e3e2dd" transform="rotate(-12 813.9 815.6)"/><circle cx="825.0" cy="817.4" r="1.1" fill="#8d8c88"/><ellipse cx="829.7" cy="812.6" rx="5.6" ry="2.9" fill="#e3e2dd" transform="rotate(-12 829.7 812.6)"/><circle cx="840.9" cy="814.4" r="1.1" fill="#8d8c88"/><ellipse cx="845.5" cy="809.7" rx="5.6" ry="2.9" fill="#e3e2dd" transform="rotate(-12 845.5 809.7)"/><circle cx="856.7" cy="811.4" r="1.1" fill="#8d8c88"/><ellipse cx="861.4" cy="806.7" rx="5.6" ry="2.9" fill="#e3e2dd" transform="rotate(-12 861.4 806.7)"/><circle cx="872.6" cy="808.5" r="1.1" fill="#8d8c88"/><ellipse cx="877.2" cy="803.8" rx="5.6" ry="2.9" fill="#e3e2dd" transform="rotate(-12 877.2 803.8)"/><circle cx="888.4" cy="805.5" r="1.1" fill="#8d8c88"/><ellipse cx="893.1" cy="800.8" rx="5.6" ry="2.9" fill="#e3e2dd" transform="rotate(-12 893.1 800.8)"/><circle cx="904.2" cy="802.5" r="1.1" fill="#8d8c88"/><ellipse cx="908.9" cy="797.9" rx="5.6" ry="2.9" fill="#e3e2dd" transform="rotate(-12 908.9 797.9)"/><circle cx="920.1" cy="799.5" r="1.1" fill="#8d8c88"/><ellipse cx="924.7" cy="794.9" rx="5.6" ry="2.9" fill="#e3e2dd" transform="rotate(-12 924.7 794.9)"/><circle cx="935.9" cy="796.5" r="1.1" fill="#8d8c88"/><ellipse cx="940.6" cy="792.0" rx="5.6" ry="2.9" fill="#e3e2dd" transform="rotate(-12 940.6 792.0)"/><circle cx="951.8" cy="793.5" r="1.1" fill="#8d8c88"/><ellipse cx="956.4" cy="789.0" rx="5.6" ry="2.9" fill="#e3e2dd" transform="rotate(-12 956.4 789.0)"/><circle cx="967.6" cy="790.6" r="1.1" fill="#8d8c88"/><ellipse cx="972.3" cy="786.0" rx="5.6" ry="2.9" fill="#e3e2dd" transform="rotate(-12 972.3 786.0)"/><circle cx="983.5" cy="787.6" r="1.1" fill="#8d8c88"/><ellipse cx="988.1" cy="783.1" rx="5.6" ry="2.9" fill="#e3e2dd" transform="rotate(-12 988.1 783.1)"/><circle cx="999.3" cy="784.6" r="1.1" fill="#8d8c88"/><ellipse cx="1003.9" cy="780.1" rx="5.6" ry="2.9" fill="#e3e2dd" transform="rotate(-12 1003.9 780.1)"/><circle cx="1015.1" cy="781.6" r="1.1" fill="#8d8c88"/><ellipse cx="1019.8" cy="777.2" rx="5.6" ry="2.9" fill="#e3e2dd" transform="rotate(-12 1019.8 777.2)"/><circle cx="1031.0" cy="778.6" r="1.1" fill="#8d8c88"/><ellipse cx="1035.6" cy="774.2" rx="5.6" ry="2.9" fill="#e3e2dd" transform="rotate(-12 1035.6 774.2)"/><circle cx="1046.8" cy="775.6" r="1.1" fill="#8d8c88"/><ellipse cx="1051.5" cy="771.3" rx="5.6" ry="2.9" fill="#e3e2dd" transform="rotate(-12 1051.5 771.3)"/><circle cx="1062.7" cy="772.7" r="1.1" fill="#8d8c88"/><ellipse cx="1067.3" cy="768.3" rx="5.6" ry="2.9" fill="#e3e2dd" transform="rotate(-12 1067.3 768.3)"/><circle cx="1078.5" cy="769.7" r="1.1" fill="#8d8c88"/><ellipse cx="1083.2" cy="765.4" rx="5.6" ry="2.9" fill="#e3e2dd" transform="rotate(-12 1083.2 765.4)"/><circle cx="1094.3" cy="766.7" r="1.1" fill="#8d8c88"/><ellipse cx="1099.0" cy="762.4" rx="5.6" ry="2.9" fill="#e3e2dd" transform="rotate(-12 1099.0 762.4)"/><circle cx="1110.2" cy="763.7" r="1.1" fill="#8d8c88"/><ellipse cx="1114.8" cy="759.5" rx="5.6" ry="2.9" fill="#e3e2dd" transform="rotate(-12 1114.8 759.5)"/><circle cx="1126.0" cy="760.7" r="1.1" fill="#8d8c88"/><ellipse cx="1130.7" cy="756.5" rx="5.6" ry="2.9" fill="#e3e2dd" transform="rotate(-12 1130.7 756.5)"/><circle cx="1141.9" cy="757.7" r="1.1" fill="#8d8c88"/><ellipse cx="1146.5" cy="753.6" rx="5.6" ry="2.9" fill="#e3e2dd" transform="rotate(-12 1146.5 753.6)"/><circle cx="1157.7" cy="754.8" r="1.1" fill="#8d8c88"/><ellipse cx="1162.4" cy="750.6" rx="5.6" ry="2.9" fill="#e3e2dd" transform="rotate(-12 1162.4 750.6)"/><circle cx="1173.6" cy="751.8" r="1.1" fill="#8d8c88"/><ellipse cx="1178.2" cy="747.6" rx="5.6" ry="2.9" fill="#e3e2dd" transform="rotate(-12 1178.2 747.6)"/><circle cx="1189.4" cy="748.8" r="1.1" fill="#8d8c88"/><ellipse cx="558.8" cy="871.9" rx="5.6" ry="2.9" fill="#e3e2dd" transform="rotate(-12 558.8 871.9)"/><circle cx="570.0" cy="874.2" r="1.1" fill="#8d8c88"/><ellipse cx="574.6" cy="868.9" rx="5.6" ry="2.9" fill="#e3e2dd" transform="rotate(-12 574.6 868.9)"/><circle cx="585.8" cy="871.1" r="1.1" fill="#8d8c88"/><ellipse cx="590.5" cy="865.9" rx="5.6" ry="2.9" fill="#e3e2dd" transform="rotate(-12 590.5 865.9)"/><circle cx="601.6" cy="868.1" r="1.1" fill="#8d8c88"/><ellipse cx="606.3" cy="862.9" rx="5.6" ry="2.9" fill="#e3e2dd" transform="rotate(-12 606.3 862.9)"/><circle cx="617.5" cy="865.1" r="1.1" fill="#8d8c88"/><ellipse cx="622.2" cy="859.8" rx="5.6" ry="2.9" fill="#e3e2dd" transform="rotate(-12 622.2 859.8)"/><circle cx="633.3" cy="862.0" r="1.1" fill="#8d8c88"/><ellipse cx="638.0" cy="856.8" rx="5.6" ry="2.9" fill="#e3e2dd" transform="rotate(-12 638.0 856.8)"/><circle cx="649.2" cy="859.0" r="1.1" fill="#8d8c88"/><ellipse cx="653.9" cy="853.8" rx="5.6" ry="2.9" fill="#e3e2dd" transform="rotate(-12 653.9 853.8)"/><circle cx="665.0" cy="855.9" r="1.1" fill="#8d8c88"/><ellipse cx="669.7" cy="850.8" rx="5.6" ry="2.9" fill="#e3e2dd" transform="rotate(-12 669.7 850.8)"/><circle cx="680.9" cy="852.9" r="1.1" fill="#8d8c88"/><ellipse cx="685.5" cy="847.8" rx="5.6" ry="2.9" fill="#e3e2dd" transform="rotate(-12 685.5 847.8)"/><circle cx="696.7" cy="849.9" r="1.1" fill="#8d8c88"/><ellipse cx="701.4" cy="844.8" rx="5.6" ry="2.9" fill="#e3e2dd" transform="rotate(-12 701.4 844.8)"/><circle cx="712.6" cy="846.8" r="1.1" fill="#8d8c88"/><ellipse cx="717.2" cy="841.8" rx="5.6" ry="2.9" fill="#e3e2dd" transform="rotate(-12 717.2 841.8)"/><circle cx="728.4" cy="843.8" r="1.1" fill="#8d8c88"/><ellipse cx="733.1" cy="838.8" rx="5.6" ry="2.9" fill="#e3e2dd" transform="rotate(-12 733.1 838.8)"/><circle cx="744.2" cy="840.7" r="1.1" fill="#8d8c88"/><ellipse cx="748.9" cy="835.8" rx="5.6" ry="2.9" fill="#e3e2dd" transform="rotate(-12 748.9 835.8)"/><circle cx="760.1" cy="837.7" r="1.1" fill="#8d8c88"/><ellipse cx="764.8" cy="832.7" rx="5.6" ry="2.9" fill="#e3e2dd" transform="rotate(-12 764.8 832.7)"/><circle cx="775.9" cy="834.7" r="1.1" fill="#8d8c88"/><ellipse cx="780.6" cy="829.7" rx="5.6" ry="2.9" fill="#e3e2dd" transform="rotate(-12 780.6 829.7)"/><circle cx="791.8" cy="831.6" r="1.1" fill="#8d8c88"/><ellipse cx="796.4" cy="826.7" rx="5.6" ry="2.9" fill="#e3e2dd" transform="rotate(-12 796.4 826.7)"/><circle cx="807.6" cy="828.6" r="1.1" fill="#8d8c88"/><ellipse cx="812.3" cy="823.7" rx="5.6" ry="2.9" fill="#e3e2dd" transform="rotate(-12 812.3 823.7)"/><circle cx="823.5" cy="825.5" r="1.1" fill="#8d8c88"/><ellipse cx="828.1" cy="820.7" rx="5.6" ry="2.9" fill="#e3e2dd" transform="rotate(-12 828.1 820.7)"/><circle cx="839.3" cy="822.5" r="1.1" fill="#8d8c88"/><ellipse cx="844.0" cy="817.7" rx="5.6" ry="2.9" fill="#e3e2dd" transform="rotate(-12 844.0 817.7)"/><circle cx="855.2" cy="819.5" r="1.1" fill="#8d8c88"/><ellipse cx="859.8" cy="814.7" rx="5.6" ry="2.9" fill="#e3e2dd" transform="rotate(-12 859.8 814.7)"/><circle cx="871.0" cy="816.4" r="1.1" fill="#8d8c88"/><ellipse cx="875.7" cy="811.7" rx="5.6" ry="2.9" fill="#e3e2dd" transform="rotate(-12 875.7 811.7)"/><circle cx="886.8" cy="813.4" r="1.1" fill="#8d8c88"/><ellipse cx="891.5" cy="808.7" rx="5.6" ry="2.9" fill="#e3e2dd" transform="rotate(-12 891.5 808.7)"/><circle cx="902.7" cy="810.3" r="1.1" fill="#8d8c88"/><ellipse cx="907.3" cy="805.6" rx="5.6" ry="2.9" fill="#e3e2dd" transform="rotate(-12 907.3 805.6)"/><circle cx="918.5" cy="807.3" r="1.1" fill="#8d8c88"/><ellipse cx="923.2" cy="802.6" rx="5.6" ry="2.9" fill="#e3e2dd" transform="rotate(-12 923.2 802.6)"/><circle cx="934.4" cy="804.3" r="1.1" fill="#8d8c88"/><ellipse cx="939.0" cy="799.6" rx="5.6" ry="2.9" fill="#e3e2dd" transform="rotate(-12 939.0 799.6)"/><circle cx="950.2" cy="801.2" r="1.1" fill="#8d8c88"/><ellipse cx="954.9" cy="796.6" rx="5.6" ry="2.9" fill="#e3e2dd" transform="rotate(-12 954.9 796.6)"/><circle cx="966.1" cy="798.2" r="1.1" fill="#8d8c88"/><ellipse cx="970.7" cy="793.6" rx="5.6" ry="2.9" fill="#e3e2dd" transform="rotate(-12 970.7 793.6)"/><circle cx="981.9" cy="795.1" r="1.1" fill="#8d8c88"/><ellipse cx="986.6" cy="790.6" rx="5.6" ry="2.9" fill="#e3e2dd" transform="rotate(-12 986.6 790.6)"/><circle cx="997.8" cy="792.1" r="1.1" fill="#8d8c88"/><ellipse cx="1002.4" cy="787.6" rx="5.6" ry="2.9" fill="#e3e2dd" transform="rotate(-12 1002.4 787.6)"/><circle cx="1013.6" cy="789.1" r="1.1" fill="#8d8c88"/><ellipse cx="1018.2" cy="784.6" rx="5.6" ry="2.9" fill="#e3e2dd" transform="rotate(-12 1018.2 784.6)"/><circle cx="1029.4" cy="786.0" r="1.1" fill="#8d8c88"/><ellipse cx="1034.1" cy="781.6" rx="5.6" ry="2.9" fill="#e3e2dd" transform="rotate(-12 1034.1 781.6)"/><circle cx="1045.3" cy="783.0" r="1.1" fill="#8d8c88"/><ellipse cx="1049.9" cy="778.5" rx="5.6" ry="2.9" fill="#e3e2dd" transform="rotate(-12 1049.9 778.5)"/><circle cx="1061.1" cy="779.9" r="1.1" fill="#8d8c88"/><ellipse cx="1065.8" cy="775.5" rx="5.6" ry="2.9" fill="#e3e2dd" transform="rotate(-12 1065.8 775.5)"/><circle cx="1077.0" cy="776.9" r="1.1" fill="#8d8c88"/><ellipse cx="1081.6" cy="772.5" rx="5.6" ry="2.9" fill="#e3e2dd" transform="rotate(-12 1081.6 772.5)"/><circle cx="1092.8" cy="773.9" r="1.1" fill="#8d8c88"/><ellipse cx="1097.5" cy="769.5" rx="5.6" ry="2.9" fill="#e3e2dd" transform="rotate(-12 1097.5 769.5)"/><circle cx="1108.7" cy="770.8" r="1.1" fill="#8d8c88"/><ellipse cx="1113.3" cy="766.5" rx="5.6" ry="2.9" fill="#e3e2dd" transform="rotate(-12 1113.3 766.5)"/><circle cx="1124.5" cy="767.8" r="1.1" fill="#8d8c88"/><ellipse cx="1129.1" cy="763.5" rx="5.6" ry="2.9" fill="#e3e2dd" transform="rotate(-12 1129.1 763.5)"/><circle cx="1140.3" cy="764.7" r="1.1" fill="#8d8c88"/><ellipse cx="1145.0" cy="760.5" rx="5.6" ry="2.9" fill="#e3e2dd" transform="rotate(-12 1145.0 760.5)"/><circle cx="1156.2" cy="761.7" r="1.1" fill="#8d8c88"/><ellipse cx="1160.8" cy="757.5" rx="5.6" ry="2.9" fill="#e3e2dd" transform="rotate(-12 1160.8 757.5)"/><circle cx="1172.0" cy="758.7" r="1.1" fill="#8d8c88"/><ellipse cx="1176.7" cy="754.5" rx="5.6" ry="2.9" fill="#e3e2dd" transform="rotate(-12 1176.7 754.5)"/><circle cx="1187.9" cy="755.6" r="1.1" fill="#8d8c88"/><ellipse cx="557.2" cy="881.0" rx="5.6" ry="2.9" fill="#e3e2dd" transform="rotate(-12 557.2 881.0)"/><circle cx="568.4" cy="883.3" r="1.1" fill="#8d8c88"/><ellipse cx="573.0" cy="877.9" rx="5.6" ry="2.9" fill="#e3e2dd" transform="rotate(-12 573.0 877.9)"/><circle cx="584.2" cy="880.2" r="1.1" fill="#8d8c88"/><ellipse cx="588.9" cy="874.9" rx="5.6" ry="2.9" fill="#e3e2dd" transform="rotate(-12 588.9 874.9)"/><circle cx="600.1" cy="877.1" r="1.1" fill="#8d8c88"/><ellipse cx="604.7" cy="871.8" rx="5.6" ry="2.9" fill="#e3e2dd" transform="rotate(-12 604.7 871.8)"/><circle cx="615.9" cy="874.0" r="1.1" fill="#8d8c88"/><ellipse cx="620.6" cy="868.7" rx="5.6" ry="2.9" fill="#e3e2dd" transform="rotate(-12 620.6 868.7)"/><circle cx="631.7" cy="870.9" r="1.1" fill="#8d8c88"/><ellipse cx="636.4" cy="865.7" rx="5.6" ry="2.9" fill="#e3e2dd" transform="rotate(-12 636.4 865.7)"/><circle cx="647.6" cy="867.8" r="1.1" fill="#8d8c88"/><ellipse cx="652.3" cy="862.6" rx="5.6" ry="2.9" fill="#e3e2dd" transform="rotate(-12 652.3 862.6)"/><circle cx="663.4" cy="864.7" r="1.1" fill="#8d8c88"/><ellipse cx="668.1" cy="859.5" rx="5.6" ry="2.9" fill="#e3e2dd" transform="rotate(-12 668.1 859.5)"/><circle cx="679.3" cy="861.6" r="1.1" fill="#8d8c88"/><ellipse cx="684.0" cy="856.5" rx="5.6" ry="2.9" fill="#e3e2dd" transform="rotate(-12 684.0 856.5)"/><circle cx="695.1" cy="858.5" r="1.1" fill="#8d8c88"/><ellipse cx="699.8" cy="853.4" rx="5.6" ry="2.9" fill="#e3e2dd" transform="rotate(-12 699.8 853.4)"/><circle cx="711.0" cy="855.4" r="1.1" fill="#8d8c88"/><ellipse cx="715.6" cy="850.3" rx="5.6" ry="2.9" fill="#e3e2dd" transform="rotate(-12 715.6 850.3)"/><circle cx="726.8" cy="852.3" r="1.1" fill="#8d8c88"/><ellipse cx="731.5" cy="847.2" rx="5.6" ry="2.9" fill="#e3e2dd" transform="rotate(-12 731.5 847.2)"/><circle cx="742.7" cy="849.2" r="1.1" fill="#8d8c88"/><ellipse cx="747.3" cy="844.2" rx="5.6" ry="2.9" fill="#e3e2dd" transform="rotate(-12 747.3 844.2)"/><circle cx="758.5" cy="846.1" r="1.1" fill="#8d8c88"/><ellipse cx="763.2" cy="841.1" rx="5.6" ry="2.9" fill="#e3e2dd" transform="rotate(-12 763.2 841.1)"/><circle cx="774.4" cy="843.0" r="1.1" fill="#8d8c88"/><ellipse cx="779.0" cy="838.0" rx="5.6" ry="2.9" fill="#e3e2dd" transform="rotate(-12 779.0 838.0)"/><circle cx="790.2" cy="839.9" r="1.1" fill="#8d8c88"/><ellipse cx="794.9" cy="835.0" rx="5.6" ry="2.9" fill="#e3e2dd" transform="rotate(-12 794.9 835.0)"/><circle cx="806.0" cy="836.8" r="1.1" fill="#8d8c88"/><ellipse cx="810.7" cy="831.9" rx="5.6" ry="2.9" fill="#e3e2dd" transform="rotate(-12 810.7 831.9)"/><circle cx="821.9" cy="833.7" r="1.1" fill="#8d8c88"/><ellipse cx="826.6" cy="828.8" rx="5.6" ry="2.9" fill="#e3e2dd" transform="rotate(-12 826.6 828.8)"/><circle cx="837.7" cy="830.6" r="1.1" fill="#8d8c88"/><ellipse cx="842.4" cy="825.8" rx="5.6" ry="2.9" fill="#e3e2dd" transform="rotate(-12 842.4 825.8)"/><circle cx="853.6" cy="827.5" r="1.1" fill="#8d8c88"/><ellipse cx="858.3" cy="822.7" rx="5.6" ry="2.9" fill="#e3e2dd" transform="rotate(-12 858.3 822.7)"/><circle cx="869.4" cy="824.4" r="1.1" fill="#8d8c88"/><ellipse cx="874.1" cy="819.6" rx="5.6" ry="2.9" fill="#e3e2dd" transform="rotate(-12 874.1 819.6)"/><circle cx="885.3" cy="821.4" r="1.1" fill="#8d8c88"/><ellipse cx="889.9" cy="816.6" rx="5.6" ry="2.9" fill="#e3e2dd" transform="rotate(-12 889.9 816.6)"/><circle cx="901.1" cy="818.3" r="1.1" fill="#8d8c88"/><ellipse cx="905.8" cy="813.5" rx="5.6" ry="2.9" fill="#e3e2dd" transform="rotate(-12 905.8 813.5)"/><circle cx="917.0" cy="815.2" r="1.1" fill="#8d8c88"/><ellipse cx="921.6" cy="810.4" rx="5.6" ry="2.9" fill="#e3e2dd" transform="rotate(-12 921.6 810.4)"/><circle cx="932.8" cy="812.1" r="1.1" fill="#8d8c88"/><ellipse cx="937.5" cy="807.3" rx="5.6" ry="2.9" fill="#e3e2dd" transform="rotate(-12 937.5 807.3)"/><circle cx="948.7" cy="809.0" r="1.1" fill="#8d8c88"/><ellipse cx="953.3" cy="804.3" rx="5.6" ry="2.9" fill="#e3e2dd" transform="rotate(-12 953.3 804.3)"/><circle cx="964.5" cy="805.9" r="1.1" fill="#8d8c88"/><ellipse cx="969.2" cy="801.2" rx="5.6" ry="2.9" fill="#e3e2dd" transform="rotate(-12 969.2 801.2)"/><circle cx="980.4" cy="802.8" r="1.1" fill="#8d8c88"/><ellipse cx="985.0" cy="798.1" rx="5.6" ry="2.9" fill="#e3e2dd" transform="rotate(-12 985.0 798.1)"/><circle cx="996.2" cy="799.7" r="1.1" fill="#8d8c88"/><ellipse cx="1000.9" cy="795.1" rx="5.6" ry="2.9" fill="#e3e2dd" transform="rotate(-12 1000.9 795.1)"/><circle cx="1012.0" cy="796.6" r="1.1" fill="#8d8c88"/><ellipse cx="1016.7" cy="792.0" rx="5.6" ry="2.9" fill="#e3e2dd" transform="rotate(-12 1016.7 792.0)"/><circle cx="1027.9" cy="793.5" r="1.1" fill="#8d8c88"/><ellipse cx="1032.5" cy="788.9" rx="5.6" ry="2.9" fill="#e3e2dd" transform="rotate(-12 1032.5 788.9)"/><circle cx="1043.7" cy="790.4" r="1.1" fill="#8d8c88"/><ellipse cx="1048.4" cy="785.9" rx="5.6" ry="2.9" fill="#e3e2dd" transform="rotate(-12 1048.4 785.9)"/><circle cx="1059.6" cy="787.3" r="1.1" fill="#8d8c88"/><ellipse cx="1064.2" cy="782.8" rx="5.6" ry="2.9" fill="#e3e2dd" transform="rotate(-12 1064.2 782.8)"/><circle cx="1075.4" cy="784.2" r="1.1" fill="#8d8c88"/><ellipse cx="1080.1" cy="779.7" rx="5.6" ry="2.9" fill="#e3e2dd" transform="rotate(-12 1080.1 779.7)"/><circle cx="1091.3" cy="781.1" r="1.1" fill="#8d8c88"/><ellipse cx="1095.9" cy="776.7" rx="5.6" ry="2.9" fill="#e3e2dd" transform="rotate(-12 1095.9 776.7)"/><circle cx="1107.1" cy="778.0" r="1.1" fill="#8d8c88"/><ellipse cx="1111.8" cy="773.6" rx="5.6" ry="2.9" fill="#e3e2dd" transform="rotate(-12 1111.8 773.6)"/><circle cx="1123.0" cy="774.9" r="1.1" fill="#8d8c88"/><ellipse cx="1127.6" cy="770.5" rx="5.6" ry="2.9" fill="#e3e2dd" transform="rotate(-12 1127.6 770.5)"/><circle cx="1138.8" cy="771.8" r="1.1" fill="#8d8c88"/><ellipse cx="1143.5" cy="767.5" rx="5.6" ry="2.9" fill="#e3e2dd" transform="rotate(-12 1143.5 767.5)"/><circle cx="1154.7" cy="768.7" r="1.1" fill="#8d8c88"/><ellipse cx="1159.3" cy="764.4" rx="5.6" ry="2.9" fill="#e3e2dd" transform="rotate(-12 1159.3 764.4)"/><circle cx="1170.5" cy="765.6" r="1.1" fill="#8d8c88"/><ellipse cx="1175.2" cy="761.3" rx="5.6" ry="2.9" fill="#e3e2dd" transform="rotate(-12 1175.2 761.3)"/><circle cx="1186.4" cy="762.5" r="1.1" fill="#8d8c88"/><ellipse cx="1191.0" cy="758.2" rx="5.6" ry="2.9" fill="#e3e2dd" transform="rotate(-12 1191.0 758.2)"/><circle cx="1202.2" cy="759.4" r="1.1" fill="#8d8c88"/><ellipse cx="571.4" cy="887.0" rx="5.6" ry="2.9" fill="#e3e2dd" transform="rotate(-12 571.4 887.0)"/><circle cx="582.6" cy="889.3" r="1.1" fill="#8d8c88"/><ellipse cx="587.3" cy="883.9" rx="5.6" ry="2.9" fill="#e3e2dd" transform="rotate(-12 587.3 883.9)"/><circle cx="598.5" cy="886.2" r="1.1" fill="#8d8c88"/><ellipse cx="603.1" cy="880.8" rx="5.6" ry="2.9" fill="#e3e2dd" transform="rotate(-12 603.1 880.8)"/><circle cx="614.3" cy="883.0" r="1.1" fill="#8d8c88"/><ellipse cx="619.0" cy="877.7" rx="5.6" ry="2.9" fill="#e3e2dd" transform="rotate(-12 619.0 877.7)"/><circle cx="630.1" cy="879.9" r="1.1" fill="#8d8c88"/><ellipse cx="634.8" cy="874.5" rx="5.6" ry="2.9" fill="#e3e2dd" transform="rotate(-12 634.8 874.5)"/><circle cx="646.0" cy="876.7" r="1.1" fill="#8d8c88"/><ellipse cx="650.7" cy="871.4" rx="5.6" ry="2.9" fill="#e3e2dd" transform="rotate(-12 650.7 871.4)"/><circle cx="661.8" cy="873.5" r="1.1" fill="#8d8c88"/><ellipse cx="666.5" cy="868.3" rx="5.6" ry="2.9" fill="#e3e2dd" transform="rotate(-12 666.5 868.3)"/><circle cx="677.7" cy="870.4" r="1.1" fill="#8d8c88"/><ellipse cx="682.4" cy="865.2" rx="5.6" ry="2.9" fill="#e3e2dd" transform="rotate(-12 682.4 865.2)"/><circle cx="693.5" cy="867.2" r="1.1" fill="#8d8c88"/><ellipse cx="698.2" cy="862.0" rx="5.6" ry="2.9" fill="#e3e2dd" transform="rotate(-12 698.2 862.0)"/><circle cx="709.4" cy="864.1" r="1.1" fill="#8d8c88"/><ellipse cx="714.1" cy="858.9" rx="5.6" ry="2.9" fill="#e3e2dd" transform="rotate(-12 714.1 858.9)"/><circle cx="725.2" cy="860.9" r="1.1" fill="#8d8c88"/><ellipse cx="729.9" cy="855.8" rx="5.6" ry="2.9" fill="#e3e2dd" transform="rotate(-12 729.9 855.8)"/><circle cx="741.1" cy="857.8" r="1.1" fill="#8d8c88"/><ellipse cx="745.8" cy="852.6" rx="5.6" ry="2.9" fill="#e3e2dd" transform="rotate(-12 745.8 852.6)"/><circle cx="756.9" cy="854.6" r="1.1" fill="#8d8c88"/><ellipse cx="761.6" cy="849.5" rx="5.6" ry="2.9" fill="#e3e2dd" transform="rotate(-12 761.6 849.5)"/><circle cx="772.8" cy="851.5" r="1.1" fill="#8d8c88"/><ellipse cx="777.5" cy="846.4" rx="5.6" ry="2.9" fill="#e3e2dd" transform="rotate(-12 777.5 846.4)"/><circle cx="788.6" cy="848.3" r="1.1" fill="#8d8c88"/><ellipse cx="793.3" cy="843.3" rx="5.6" ry="2.9" fill="#e3e2dd" transform="rotate(-12 793.3 843.3)"/><circle cx="804.5" cy="845.2" r="1.1" fill="#8d8c88"/><ellipse cx="809.1" cy="840.1" rx="5.6" ry="2.9" fill="#e3e2dd" transform="rotate(-12 809.1 840.1)"/><circle cx="820.3" cy="842.0" r="1.1" fill="#8d8c88"/><ellipse cx="825.0" cy="837.0" rx="5.6" ry="2.9" fill="#e3e2dd" transform="rotate(-12 825.0 837.0)"/><circle cx="836.2" cy="838.8" r="1.1" fill="#8d8c88"/><ellipse cx="840.8" cy="833.9" rx="5.6" ry="2.9" fill="#e3e2dd" transform="rotate(-12 840.8 833.9)"/><circle cx="852.0" cy="835.7" r="1.1" fill="#8d8c88"/><ellipse cx="856.7" cy="830.8" rx="5.6" ry="2.9" fill="#e3e2dd" transform="rotate(-12 856.7 830.8)"/><circle cx="867.9" cy="832.5" r="1.1" fill="#8d8c88"/><ellipse cx="872.5" cy="827.6" rx="5.6" ry="2.9" fill="#e3e2dd" transform="rotate(-12 872.5 827.6)"/><circle cx="883.7" cy="829.4" r="1.1" fill="#8d8c88"/><ellipse cx="888.4" cy="824.5" rx="5.6" ry="2.9" fill="#e3e2dd" transform="rotate(-12 888.4 824.5)"/><circle cx="899.6" cy="826.2" r="1.1" fill="#8d8c88"/><ellipse cx="904.2" cy="821.4" rx="5.6" ry="2.9" fill="#e3e2dd" transform="rotate(-12 904.2 821.4)"/><circle cx="915.4" cy="823.1" r="1.1" fill="#8d8c88"/><ellipse cx="920.1" cy="818.3" rx="5.6" ry="2.9" fill="#e3e2dd" transform="rotate(-12 920.1 818.3)"/><circle cx="931.3" cy="819.9" r="1.1" fill="#8d8c88"/><ellipse cx="935.9" cy="815.1" rx="5.6" ry="2.9" fill="#e3e2dd" transform="rotate(-12 935.9 815.1)"/><circle cx="947.1" cy="816.8" r="1.1" fill="#8d8c88"/><ellipse cx="951.8" cy="812.0" rx="5.6" ry="2.9" fill="#e3e2dd" transform="rotate(-12 951.8 812.0)"/><circle cx="963.0" cy="813.6" r="1.1" fill="#8d8c88"/><ellipse cx="967.6" cy="808.9" rx="5.6" ry="2.9" fill="#e3e2dd" transform="rotate(-12 967.6 808.9)"/><circle cx="978.8" cy="810.4" r="1.1" fill="#8d8c88"/><ellipse cx="983.5" cy="805.8" rx="5.6" ry="2.9" fill="#e3e2dd" transform="rotate(-12 983.5 805.8)"/><circle cx="994.7" cy="807.3" r="1.1" fill="#8d8c88"/><ellipse cx="999.3" cy="802.6" rx="5.6" ry="2.9" fill="#e3e2dd" transform="rotate(-12 999.3 802.6)"/><circle cx="1010.5" cy="804.1" r="1.1" fill="#8d8c88"/><ellipse cx="1015.2" cy="799.5" rx="5.6" ry="2.9" fill="#e3e2dd" transform="rotate(-12 1015.2 799.5)"/><circle cx="1026.3" cy="801.0" r="1.1" fill="#8d8c88"/><ellipse cx="1031.0" cy="796.4" rx="5.6" ry="2.9" fill="#e3e2dd" transform="rotate(-12 1031.0 796.4)"/><circle cx="1042.2" cy="797.8" r="1.1" fill="#8d8c88"/><ellipse cx="1046.9" cy="793.2" rx="5.6" ry="2.9" fill="#e3e2dd" transform="rotate(-12 1046.9 793.2)"/><circle cx="1058.0" cy="794.7" r="1.1" fill="#8d8c88"/><ellipse cx="1062.7" cy="790.1" rx="5.6" ry="2.9" fill="#e3e2dd" transform="rotate(-12 1062.7 790.1)"/><circle cx="1073.9" cy="791.5" r="1.1" fill="#8d8c88"/><ellipse cx="1078.5" cy="787.0" rx="5.6" ry="2.9" fill="#e3e2dd" transform="rotate(-12 1078.5 787.0)"/><circle cx="1089.7" cy="788.4" r="1.1" fill="#8d8c88"/><ellipse cx="1094.4" cy="783.9" rx="5.6" ry="2.9" fill="#e3e2dd" transform="rotate(-12 1094.4 783.9)"/><circle cx="1105.6" cy="785.2" r="1.1" fill="#8d8c88"/><ellipse cx="1110.2" cy="780.7" rx="5.6" ry="2.9" fill="#e3e2dd" transform="rotate(-12 1110.2 780.7)"/><circle cx="1121.4" cy="782.1" r="1.1" fill="#8d8c88"/><ellipse cx="1126.1" cy="777.6" rx="5.6" ry="2.9" fill="#e3e2dd" transform="rotate(-12 1126.1 777.6)"/><circle cx="1137.3" cy="778.9" r="1.1" fill="#8d8c88"/><ellipse cx="1141.9" cy="774.5" rx="5.6" ry="2.9" fill="#e3e2dd" transform="rotate(-12 1141.9 774.5)"/><circle cx="1153.1" cy="775.7" r="1.1" fill="#8d8c88"/><ellipse cx="1157.8" cy="771.4" rx="5.6" ry="2.9" fill="#e3e2dd" transform="rotate(-12 1157.8 771.4)"/><circle cx="1169.0" cy="772.6" r="1.1" fill="#8d8c88"/><ellipse cx="1173.6" cy="768.2" rx="5.6" ry="2.9" fill="#e3e2dd" transform="rotate(-12 1173.6 768.2)"/><circle cx="1184.8" cy="769.4" r="1.1" fill="#8d8c88"/><ellipse cx="1189.5" cy="765.1" rx="5.6" ry="2.9" fill="#e3e2dd" transform="rotate(-12 1189.5 765.1)"/><circle cx="1200.7" cy="766.3" r="1.1" fill="#8d8c88"/><ellipse cx="569.8" cy="896.2" rx="5.6" ry="2.9" fill="#e3e2dd" transform="rotate(-12 569.8 896.2)"/><ellipse cx="585.7" cy="893.0" rx="5.6" ry="2.9" fill="#e3e2dd" transform="rotate(-12 585.7 893.0)"/><ellipse cx="601.5" cy="889.8" rx="5.6" ry="2.9" fill="#e3e2dd" transform="rotate(-12 601.5 889.8)"/><ellipse cx="617.4" cy="886.6" rx="5.6" ry="2.9" fill="#e3e2dd" transform="rotate(-12 617.4 886.6)"/><ellipse cx="633.2" cy="883.5" rx="5.6" ry="2.9" fill="#e3e2dd" transform="rotate(-12 633.2 883.5)"/><ellipse cx="649.1" cy="880.3" rx="5.6" ry="2.9" fill="#e3e2dd" transform="rotate(-12 649.1 880.3)"/><ellipse cx="664.9" cy="877.1" rx="5.6" ry="2.9" fill="#e3e2dd" transform="rotate(-12 664.9 877.1)"/><ellipse cx="680.8" cy="873.9" rx="5.6" ry="2.9" fill="#e3e2dd" transform="rotate(-12 680.8 873.9)"/><ellipse cx="696.6" cy="870.7" rx="5.6" ry="2.9" fill="#e3e2dd" transform="rotate(-12 696.6 870.7)"/><ellipse cx="712.5" cy="867.5" rx="5.6" ry="2.9" fill="#e3e2dd" transform="rotate(-12 712.5 867.5)"/><ellipse cx="728.3" cy="864.4" rx="5.6" ry="2.9" fill="#e3e2dd" transform="rotate(-12 728.3 864.4)"/><ellipse cx="744.2" cy="861.2" rx="5.6" ry="2.9" fill="#e3e2dd" transform="rotate(-12 744.2 861.2)"/><ellipse cx="760.0" cy="858.0" rx="5.6" ry="2.9" fill="#e3e2dd" transform="rotate(-12 760.0 858.0)"/><ellipse cx="775.9" cy="854.8" rx="5.6" ry="2.9" fill="#e3e2dd" transform="rotate(-12 775.9 854.8)"/><ellipse cx="791.7" cy="851.6" rx="5.6" ry="2.9" fill="#e3e2dd" transform="rotate(-12 791.7 851.6)"/><ellipse cx="807.6" cy="848.4" rx="5.6" ry="2.9" fill="#e3e2dd" transform="rotate(-12 807.6 848.4)"/><ellipse cx="823.4" cy="845.3" rx="5.6" ry="2.9" fill="#e3e2dd" transform="rotate(-12 823.4 845.3)"/><ellipse cx="839.3" cy="842.1" rx="5.6" ry="2.9" fill="#e3e2dd" transform="rotate(-12 839.3 842.1)"/><ellipse cx="855.1" cy="838.9" rx="5.6" ry="2.9" fill="#e3e2dd" transform="rotate(-12 855.1 838.9)"/><ellipse cx="871.0" cy="835.7" rx="5.6" ry="2.9" fill="#e3e2dd" transform="rotate(-12 871.0 835.7)"/><ellipse cx="886.8" cy="832.5" rx="5.6" ry="2.9" fill="#e3e2dd" transform="rotate(-12 886.8 832.5)"/><ellipse cx="902.7" cy="829.3" rx="5.6" ry="2.9" fill="#e3e2dd" transform="rotate(-12 902.7 829.3)"/><ellipse cx="918.5" cy="826.2" rx="5.6" ry="2.9" fill="#e3e2dd" transform="rotate(-12 918.5 826.2)"/><ellipse cx="934.4" cy="823.0" rx="5.6" ry="2.9" fill="#e3e2dd" transform="rotate(-12 934.4 823.0)"/><ellipse cx="950.2" cy="819.8" rx="5.6" ry="2.9" fill="#e3e2dd" transform="rotate(-12 950.2 819.8)"/><ellipse cx="966.1" cy="816.6" rx="5.6" ry="2.9" fill="#e3e2dd" transform="rotate(-12 966.1 816.6)"/><ellipse cx="981.9" cy="813.4" rx="5.6" ry="2.9" fill="#e3e2dd" transform="rotate(-12 981.9 813.4)"/><ellipse cx="997.8" cy="810.2" rx="5.6" ry="2.9" fill="#e3e2dd" transform="rotate(-12 997.8 810.2)"/><ellipse cx="1013.6" cy="807.1" rx="5.6" ry="2.9" fill="#e3e2dd" transform="rotate(-12 1013.6 807.1)"/><ellipse cx="1029.5" cy="803.9" rx="5.6" ry="2.9" fill="#e3e2dd" transform="rotate(-12 1029.5 803.9)"/><ellipse cx="1045.3" cy="800.7" rx="5.6" ry="2.9" fill="#e3e2dd" transform="rotate(-12 1045.3 800.7)"/><ellipse cx="1061.2" cy="797.5" rx="5.6" ry="2.9" fill="#e3e2dd" transform="rotate(-12 1061.2 797.5)"/><ellipse cx="1077.0" cy="794.3" rx="5.6" ry="2.9" fill="#e3e2dd" transform="rotate(-12 1077.0 794.3)"/><ellipse cx="1092.9" cy="791.1" rx="5.6" ry="2.9" fill="#e3e2dd" transform="rotate(-12 1092.9 791.1)"/><ellipse cx="1108.7" cy="788.0" rx="5.6" ry="2.9" fill="#e3e2dd" transform="rotate(-12 1108.7 788.0)"/><ellipse cx="1124.6" cy="784.8" rx="5.6" ry="2.9" fill="#e3e2dd" transform="rotate(-12 1124.6 784.8)"/><ellipse cx="1140.4" cy="781.6" rx="5.6" ry="2.9" fill="#e3e2dd" transform="rotate(-12 1140.4 781.6)"/><ellipse cx="1156.3" cy="778.4" rx="5.6" ry="2.9" fill="#e3e2dd" transform="rotate(-12 1156.3 778.4)"/><ellipse cx="1172.1" cy="775.2" rx="5.6" ry="2.9" fill="#e3e2dd" transform="rotate(-12 1172.1 775.2)"/><ellipse cx="1188.0" cy="772.0" rx="5.6" ry="2.9" fill="#e3e2dd" transform="rotate(-12 1188.0 772.0)"/><ellipse cx="1203.8" cy="768.9" rx="5.6" ry="2.9" fill="#e3e2dd" transform="rotate(-12 1203.8 768.9)"/></g>
<polyline points="573,900 1205,772" stroke="#1c1c1c" stroke-width="2.2" stroke-dasharray="4,2" fill="none"/>
<polyline points="573,902.5 1205,774.5" stroke="#85847f" stroke-width="2" fill="none"/>
<polyline points="379,721 541,864 573,900" stroke="#e8e7e2" stroke-width="2.2" fill="none"/>
<polyline points="380,725 543,868 574,903" stroke="#222" stroke-width="1" fill="none" opacity="0.7"/>
<polygon points="378.0,688.0 540.5,819.0 541.4,862.0 379.0,719.0" fill="#4c4325" stroke="#4c4325" stroke-width="0.9" stroke-linejoin="round" />
<polygon points="462.0,755.0 1002.0,676.0 1002.0,661.0 1026.0,661.0 1026.0,672.0 1153.0,710.0 540.5,819.0" fill="url(#gInsTop)" stroke="url(#gInsTop)" stroke-width="0.9" stroke-linejoin="round" />
<polygon points="540.5,819.0 1153.0,710.0 1153.0,749.0 541.4,862.0" fill="url(#gInsFront)" stroke="url(#gInsFront)" stroke-width="0.9" stroke-linejoin="round" />
<line x1="540.5" y1="819.0" x2="1153.0" y2="710.0" stroke="#8d8050" stroke-width="1" opacity="0.6"/>
<line x1="541.4" y1="862.0" x2="1153.0" y2="749.0" stroke="#4a4430" stroke-width="1.2" />
<line x1="437" y1="735" x2="437.5" y2="770" stroke="#b8ad7a" stroke-width="1"/>
<polyline points="597,736 690,793 690.5,834" stroke="#3a3420" stroke-width="1" fill="none"/>
<g filter="url(#grain)"><polygon points="374.0,637.0 843.0,588.0 1000.0,631.0 459.0,697.0" fill="url(#gScreedTop)" stroke="url(#gScreedTop)" stroke-width="0.9" stroke-linejoin="round" /><polygon points="374.0,637.0 459.0,697.0 462.0,755.0 378.0,688.0" fill="#2c2b29" stroke="#2c2b29" stroke-width="0.9" stroke-linejoin="round" /><polygon points="459.0,697.0 1000.0,631.0 1000.0,676.0 462.0,755.0" fill="#9d9b90" stroke="#9d9b90" stroke-width="0.9" stroke-linejoin="round" /></g>
<line x1="843.0" y1="588.0" x2="1000.0" y2="631.0" stroke="#45433f" stroke-width="1.5" />
<polygon points="1025.0,661.0 1193.0,711.0 1190.0,764.0 1153.0,750.0 1153.0,710.0 1025.0,674.0" fill="#0b0b0b" stroke="#0b0b0b" stroke-width="0.9" stroke-linejoin="round" />
<polygon points="1204.0,803.0 1256.0,790.0 1256.0,839.0 1204.0,839.0" fill="#4a4843" stroke="#4a4843" stroke-width="0.9" stroke-linejoin="round" />
<polygon points="1255.0,782.0 1271.0,786.0 1271.0,823.0 1255.0,823.0" fill="#6e6b66" stroke="#6e6b66" stroke-width="0.9" stroke-linejoin="round" />
<polygon points="1192.0,733.0 1257.0,753.0 1256.0,791.0 1192.0,771.0" fill="#b3b2ae" stroke="#b3b2ae" stroke-width="0.9" stroke-linejoin="round" />
<polygon points="1156.0,781.6 1204.5,768.5 1255.0,790.7 1209.6,800.8" fill="#c0bfbb" stroke="#c0bfbb" stroke-width="0.9" stroke-linejoin="round" />
<polygon points="1206.0,801.0 1255.0,791.0 1255.0,826.0 1240.0,833.0 1212.0,833.0 1206.0,828.0" fill="#b7b6b2" stroke="#b7b6b2" stroke-width="0.9" stroke-linejoin="round" />
<polygon points="1212.0,806.0 1244.0,800.0 1228.0,818.0 1212.0,820.0" fill="#5d5b57" stroke="#5d5b57" stroke-width="0.9" stroke-linejoin="round" />
<line x1="783.0" y1="324.0" x2="1135.0" y2="351.0" stroke="#0c1836" stroke-width="3.6" />
<line x1="727.0" y1="461.0" x2="995.0" y2="519.0" stroke="#0c1836" stroke-width="3.6" />
<line x1="209.0" y1="628.0" x2="537.0" y2="640.0" stroke="#0c1836" stroke-width="3.6" />
<line x1="201.0" y1="794.0" x2="561.0" y2="779.0" stroke="#0c1836" stroke-width="3.6" />
<line x1="324.0" y1="939.0" x2="660.0" y2="865.0" stroke="#0c1836" stroke-width="3.6" />
<line x1="1480.5" y1="501.0" x2="1320.0" y2="507.0" stroke="#0c1836" stroke-width="3.6" />
<line x1="1448.0" y1="686.0" x2="1166.0" y2="662.0" stroke="#0c1836" stroke-width="3.6" />
<line x1="1408.5" y1="974.0" x2="1235.0" y2="815.5" stroke="#0c1836" stroke-width="3.6" />
<text x="535.5" y="93.7" font-family="Liberation Sans, sans-serif" font-size="46.8" font-weight="bold" fill="#0b0b0b" >Typical Section through Base of Brick wall</text>
<text x="669" y="154.8" font-family="Liberation Sans, sans-serif" font-size="39.15" font-weight="normal" fill="#0b0b0b" >Showing Independent Framing System</text>
<text x="604.1" y="330.3" font-family="Liberation Sans, sans-serif" font-size="20.95" font-weight="normal" fill="#0b0b0b" >System-08 to walls</text>
<text x="215.7" y="465.6" font-family="Liberation Sans, sans-serif" font-size="20.95" font-weight="normal" fill="#0b0b0b" >Gypliner or similar Independent Wall Finishes by others</text>
<text x="140.7" y="634.1" font-family="Liberation Sans, sans-serif" font-size="20.95" font-weight="normal" fill="#0b0b0b" >Screed</text>
<text x="115.7" y="802.2" font-family="Liberation Sans, sans-serif" font-size="20.95" font-weight="normal" fill="#0b0b0b" >Insufloor</text>
<text x="140.9" y="945" font-family="Liberation Sans, sans-serif" font-size="20.95" font-weight="normal" fill="#0b0b0b" >System-08 to floors</text>
<text x="1486.1" y="508.4" font-family="Liberation Sans, sans-serif" font-size="20.95" font-weight="normal" fill="#0b0b0b" >Cavity Brick Wall</text>
<text x="1455.9" y="693.4" font-family="Liberation Sans, sans-serif" font-size="20.95" font-weight="normal" fill="#0b0b0b" >Condensation strip</text>
<text x="1411.6" y="983.4" font-family="Liberation Sans, sans-serif" font-size="20.95" font-weight="normal" fill="#0b0b0b" >Hydrodrain Channel</text>
<text x="878.5" y="1244.7" font-family="Liberation Sans, sans-serif" font-size="39.1" font-weight="normal" fill="#0b0b0b" >Insulated Floor</text>
<text transform="translate(534.6,960) rotate(-30)" font-family="Liberation Sans, sans-serif" font-weight="bold" font-size="162" fill="#ffffff" fill-opacity="0.25">MACLENNAN</text>
</svg></body></html>
